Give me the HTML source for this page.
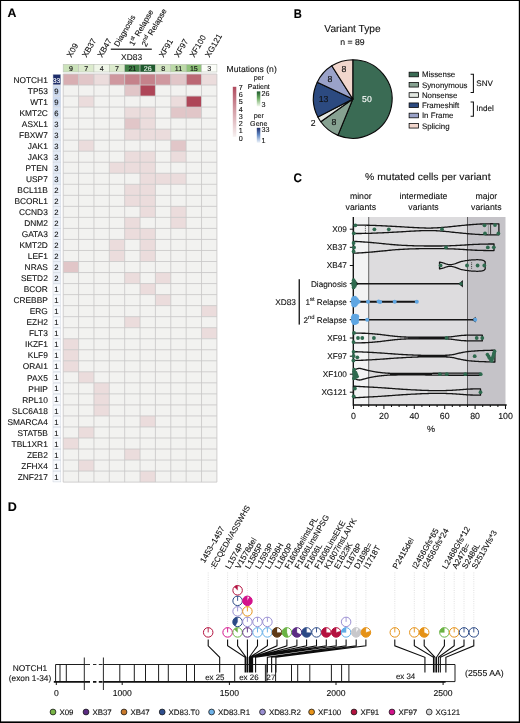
<!DOCTYPE html>
<html lang="en">
<head>
<meta charset="utf-8">
<title>Figure: mutational landscape</title>
<style>
html,body{margin:0;padding:0;background:#fff;}
body{width:520px;height:723px;overflow:hidden;}
svg{display:block;font-family:"Liberation Sans", sans-serif;text-rendering:geometricPrecision;will-change:transform;}
svg text{stroke-width:.11px;}
</style>
</head>
<body>
<svg width="520" height="723" viewBox="0 0 520 723">
<rect x="0" y="0" width="520" height="723" fill="#fff"/>
<text x="7.50" y="16.80" font-size="12.3" font-weight="bold" fill="#000" stroke="#000">A</text>
<text transform="translate(71.19,58.00) rotate(-60)" font-size="8.2" fill="#111" stroke="#111">X09</text>
<text transform="translate(86.55,58.00) rotate(-60)" font-size="8.2" fill="#111" stroke="#111">XB37</text>
<text transform="translate(101.92,58.00) rotate(-60)" font-size="8.2" fill="#111" stroke="#111">XB47</text>
<text transform="translate(118.30,47.20) rotate(-60)" font-size="7.9" fill="#111" stroke="#111">Diagnosis</text>
<text transform="translate(133.60,46.60) rotate(-60)" font-size="8.0" fill="#111" stroke="#111">1<tspan font-size="5.6" dy="-3.4">st</tspan><tspan dy="3.4"> Relapse</tspan></text>
<text transform="translate(145.90,47.20) rotate(-60)" font-size="8.0" fill="#111" stroke="#111">2<tspan font-size="5.6" dy="-3.4">nd</tspan><tspan dy="3.4"> Relapse</tspan></text>
<text transform="translate(163.41,58.00) rotate(-60)" font-size="8.2" fill="#111" stroke="#111">XF91</text>
<text transform="translate(178.78,58.00) rotate(-60)" font-size="8.2" fill="#111" stroke="#111">XF97</text>
<text transform="translate(194.14,58.00) rotate(-60)" font-size="8.2" fill="#111" stroke="#111">XF100</text>
<text transform="translate(209.51,58.00) rotate(-60)" font-size="8.2" fill="#111" stroke="#111">XG121</text>
<rect x="110.8" y="48.6" width="41" height="1.2" fill="#111"/>
<text x="131.60" y="60.00" font-size="8.4" text-anchor="middle" fill="#111" stroke="#111">XD83</text>
<rect x="63.20" y="64.3" width="15.37" height="7.7" fill="#cce3bb" stroke="#bcc2b7" stroke-width="0.6"/>
<text x="70.89" y="70.70" font-size="7.1" text-anchor="middle" fill="#111" stroke="#111">9</text>
<rect x="78.57" y="64.3" width="15.37" height="7.7" fill="#dcebcd" stroke="#bcc2b7" stroke-width="0.6"/>
<text x="86.26" y="70.70" font-size="7.1" text-anchor="middle" fill="#111" stroke="#111">7</text>
<rect x="93.94" y="64.3" width="15.37" height="7.7" fill="#eff6e8" stroke="#bcc2b7" stroke-width="0.6"/>
<text x="101.62" y="70.70" font-size="7.1" text-anchor="middle" fill="#111" stroke="#111">4</text>
<rect x="109.31" y="64.3" width="15.37" height="7.7" fill="#dcebcd" stroke="#bcc2b7" stroke-width="0.6"/>
<text x="117.00" y="70.70" font-size="7.1" text-anchor="middle" fill="#111" stroke="#111">7</text>
<rect x="124.68" y="64.3" width="15.37" height="7.7" fill="#3f7f45" stroke="#bcc2b7" stroke-width="0.6"/>
<text x="132.37" y="70.70" font-size="7.1" text-anchor="middle" fill="#111" stroke="#111">21</text>
<rect x="140.05" y="64.3" width="15.37" height="7.7" fill="#1f5a2e" stroke="#bcc2b7" stroke-width="0.6"/>
<text x="147.74" y="70.70" font-size="7.1" text-anchor="middle" fill="#e8f0e6" stroke="#e8f0e6">26</text>
<rect x="155.42" y="64.3" width="15.37" height="7.7" fill="#d4e7c4" stroke="#bcc2b7" stroke-width="0.6"/>
<text x="163.11" y="70.70" font-size="7.1" text-anchor="middle" fill="#111" stroke="#111">8</text>
<rect x="170.79" y="64.3" width="15.37" height="7.7" fill="#bcdaa7" stroke="#bcc2b7" stroke-width="0.6"/>
<text x="178.47" y="70.70" font-size="7.1" text-anchor="middle" fill="#111" stroke="#111">11</text>
<rect x="186.16" y="64.3" width="15.37" height="7.7" fill="#8fc27a" stroke="#bcc2b7" stroke-width="0.6"/>
<text x="193.84" y="70.70" font-size="7.1" text-anchor="middle" fill="#111" stroke="#111">15</text>
<rect x="201.53" y="64.3" width="15.37" height="7.7" fill="#fbfdf8" stroke="#bcc2b7" stroke-width="0.6"/>
<text x="209.21" y="70.70" font-size="7.1" text-anchor="middle" fill="#111" stroke="#111">3</text>
<text x="47.80" y="82.70" font-size="8.35" text-anchor="end" fill="#111" stroke="#111">NOTCH1</text>
<rect x="53" y="74.30" width="7.8" height="10.53" fill="#1e2d6a" stroke="#cdd3dd" stroke-width="0.5"/>
<text x="56.50" y="82.60" font-size="6.9" text-anchor="middle" fill="#fff" stroke="#fff">33</text>
<rect x="63.20" y="74.00" width="15.37" height="11.03" fill="#d8aeb2"/>
<rect x="78.57" y="74.00" width="15.37" height="11.03" fill="#e1c6c8"/>
<rect x="93.94" y="74.00" width="15.37" height="11.03" fill="#ebdcdc"/>
<rect x="109.31" y="74.00" width="15.37" height="11.03" fill="#cf989f"/>
<rect x="124.68" y="74.00" width="15.37" height="11.03" fill="#c5828b"/>
<rect x="140.05" y="74.00" width="15.37" height="11.03" fill="#c5828b"/>
<rect x="155.42" y="74.00" width="15.37" height="11.03" fill="#cf989f"/>
<rect x="170.79" y="74.00" width="15.37" height="11.03" fill="#e1c6c8"/>
<rect x="186.16" y="74.00" width="15.37" height="11.03" fill="#bb6874"/>
<rect x="201.53" y="74.00" width="15.37" height="11.03" fill="#ebdcdc"/>
<text x="47.80" y="93.73" font-size="8.35" text-anchor="end" fill="#111" stroke="#111">TP53</text>
<rect x="53" y="85.33" width="7.8" height="10.53" fill="#ccdaf0" stroke="#cdd3dd" stroke-width="0.5"/>
<text x="56.50" y="93.63" font-size="7.7" text-anchor="middle" fill="#111" stroke="#111">9</text>
<rect x="63.20" y="85.03" width="15.37" height="11.03" fill="#f2f2f0"/>
<rect x="78.57" y="85.03" width="15.37" height="11.03" fill="#f2f2f0"/>
<rect x="93.94" y="85.03" width="15.37" height="11.03" fill="#f2f2f0"/>
<rect x="109.31" y="85.03" width="15.37" height="11.03" fill="#f2f2f0"/>
<rect x="124.68" y="85.03" width="15.37" height="11.03" fill="#e1c6c8"/>
<rect x="140.05" y="85.03" width="15.37" height="11.03" fill="#ae4658"/>
<rect x="155.42" y="85.03" width="15.37" height="11.03" fill="#f2f2f0"/>
<rect x="170.79" y="85.03" width="15.37" height="11.03" fill="#f2f2f0"/>
<rect x="186.16" y="85.03" width="15.37" height="11.03" fill="#f2f2f0"/>
<rect x="201.53" y="85.03" width="15.37" height="11.03" fill="#f2f2f0"/>
<text x="47.80" y="104.76" font-size="8.35" text-anchor="end" fill="#111" stroke="#111">WT1</text>
<rect x="53" y="96.36" width="7.8" height="10.53" fill="#ccdaf0" stroke="#cdd3dd" stroke-width="0.5"/>
<text x="56.50" y="104.66" font-size="7.7" text-anchor="middle" fill="#111" stroke="#111">9</text>
<rect x="63.20" y="96.06" width="15.37" height="11.03" fill="#f2f2f0"/>
<rect x="78.57" y="96.06" width="15.37" height="11.03" fill="#ebdcdc"/>
<rect x="93.94" y="96.06" width="15.37" height="11.03" fill="#f2f2f0"/>
<rect x="109.31" y="96.06" width="15.37" height="11.03" fill="#f2f2f0"/>
<rect x="124.68" y="96.06" width="15.37" height="11.03" fill="#f2f2f0"/>
<rect x="140.05" y="96.06" width="15.37" height="11.03" fill="#f2f2f0"/>
<rect x="155.42" y="96.06" width="15.37" height="11.03" fill="#f2f2f0"/>
<rect x="170.79" y="96.06" width="15.37" height="11.03" fill="#ebdcdc"/>
<rect x="186.16" y="96.06" width="15.37" height="11.03" fill="#ae4658"/>
<rect x="201.53" y="96.06" width="15.37" height="11.03" fill="#f2f2f0"/>
<text x="47.80" y="115.79" font-size="8.35" text-anchor="end" fill="#111" stroke="#111">KMT2C</text>
<rect x="53" y="107.39" width="7.8" height="10.53" fill="#d6e2f3" stroke="#cdd3dd" stroke-width="0.5"/>
<text x="56.50" y="115.69" font-size="7.7" text-anchor="middle" fill="#111" stroke="#111">6</text>
<rect x="63.20" y="107.09" width="15.37" height="11.03" fill="#f2f2f0"/>
<rect x="78.57" y="107.09" width="15.37" height="11.03" fill="#f2f2f0"/>
<rect x="93.94" y="107.09" width="15.37" height="11.03" fill="#f2f2f0"/>
<rect x="109.31" y="107.09" width="15.37" height="11.03" fill="#f2f2f0"/>
<rect x="124.68" y="107.09" width="15.37" height="11.03" fill="#ebdcdc"/>
<rect x="140.05" y="107.09" width="15.37" height="11.03" fill="#ebdcdc"/>
<rect x="155.42" y="107.09" width="15.37" height="11.03" fill="#f2f2f0"/>
<rect x="170.79" y="107.09" width="15.37" height="11.03" fill="#e1c6c8"/>
<rect x="186.16" y="107.09" width="15.37" height="11.03" fill="#e1c6c8"/>
<rect x="201.53" y="107.09" width="15.37" height="11.03" fill="#f2f2f0"/>
<text x="47.80" y="126.82" font-size="8.35" text-anchor="end" fill="#111" stroke="#111">ASXL1</text>
<rect x="53" y="118.42" width="7.8" height="10.53" fill="#e3ebf6" stroke="#cdd3dd" stroke-width="0.5"/>
<text x="56.50" y="126.72" font-size="7.7" text-anchor="middle" fill="#111" stroke="#111">3</text>
<rect x="63.20" y="118.12" width="15.37" height="11.03" fill="#f2f2f0"/>
<rect x="78.57" y="118.12" width="15.37" height="11.03" fill="#f2f2f0"/>
<rect x="93.94" y="118.12" width="15.37" height="11.03" fill="#f2f2f0"/>
<rect x="109.31" y="118.12" width="15.37" height="11.03" fill="#f2f2f0"/>
<rect x="124.68" y="118.12" width="15.37" height="11.03" fill="#e1c6c8"/>
<rect x="140.05" y="118.12" width="15.37" height="11.03" fill="#ebdcdc"/>
<rect x="155.42" y="118.12" width="15.37" height="11.03" fill="#f2f2f0"/>
<rect x="170.79" y="118.12" width="15.37" height="11.03" fill="#f2f2f0"/>
<rect x="186.16" y="118.12" width="15.37" height="11.03" fill="#f2f2f0"/>
<rect x="201.53" y="118.12" width="15.37" height="11.03" fill="#f2f2f0"/>
<text x="47.80" y="137.85" font-size="8.35" text-anchor="end" fill="#111" stroke="#111">FBXW7</text>
<rect x="53" y="129.45" width="7.8" height="10.53" fill="#e3ebf6" stroke="#cdd3dd" stroke-width="0.5"/>
<text x="56.50" y="137.75" font-size="7.7" text-anchor="middle" fill="#111" stroke="#111">3</text>
<rect x="63.20" y="129.15" width="15.37" height="11.03" fill="#f2f2f0"/>
<rect x="78.57" y="129.15" width="15.37" height="11.03" fill="#f2f2f0"/>
<rect x="93.94" y="129.15" width="15.37" height="11.03" fill="#f2f2f0"/>
<rect x="109.31" y="129.15" width="15.37" height="11.03" fill="#f2f2f0"/>
<rect x="124.68" y="129.15" width="15.37" height="11.03" fill="#ebdcdc"/>
<rect x="140.05" y="129.15" width="15.37" height="11.03" fill="#ebdcdc"/>
<rect x="155.42" y="129.15" width="15.37" height="11.03" fill="#ebdcdc"/>
<rect x="170.79" y="129.15" width="15.37" height="11.03" fill="#f2f2f0"/>
<rect x="186.16" y="129.15" width="15.37" height="11.03" fill="#f2f2f0"/>
<rect x="201.53" y="129.15" width="15.37" height="11.03" fill="#f2f2f0"/>
<text x="47.80" y="148.88" font-size="8.35" text-anchor="end" fill="#111" stroke="#111">JAK1</text>
<rect x="53" y="140.48" width="7.8" height="10.53" fill="#e3ebf6" stroke="#cdd3dd" stroke-width="0.5"/>
<text x="56.50" y="148.78" font-size="7.7" text-anchor="middle" fill="#111" stroke="#111">3</text>
<rect x="63.20" y="140.18" width="15.37" height="11.03" fill="#f2f2f0"/>
<rect x="78.57" y="140.18" width="15.37" height="11.03" fill="#ebdcdc"/>
<rect x="93.94" y="140.18" width="15.37" height="11.03" fill="#f2f2f0"/>
<rect x="109.31" y="140.18" width="15.37" height="11.03" fill="#f2f2f0"/>
<rect x="124.68" y="140.18" width="15.37" height="11.03" fill="#f2f2f0"/>
<rect x="140.05" y="140.18" width="15.37" height="11.03" fill="#f2f2f0"/>
<rect x="155.42" y="140.18" width="15.37" height="11.03" fill="#f2f2f0"/>
<rect x="170.79" y="140.18" width="15.37" height="11.03" fill="#e1c6c8"/>
<rect x="186.16" y="140.18" width="15.37" height="11.03" fill="#f2f2f0"/>
<rect x="201.53" y="140.18" width="15.37" height="11.03" fill="#f2f2f0"/>
<text x="47.80" y="159.91" font-size="8.35" text-anchor="end" fill="#111" stroke="#111">JAK3</text>
<rect x="53" y="151.51" width="7.8" height="10.53" fill="#e3ebf6" stroke="#cdd3dd" stroke-width="0.5"/>
<text x="56.50" y="159.81" font-size="7.7" text-anchor="middle" fill="#111" stroke="#111">3</text>
<rect x="63.20" y="151.21" width="15.37" height="11.03" fill="#f2f2f0"/>
<rect x="78.57" y="151.21" width="15.37" height="11.03" fill="#f2f2f0"/>
<rect x="93.94" y="151.21" width="15.37" height="11.03" fill="#f2f2f0"/>
<rect x="109.31" y="151.21" width="15.37" height="11.03" fill="#f2f2f0"/>
<rect x="124.68" y="151.21" width="15.37" height="11.03" fill="#ebdcdc"/>
<rect x="140.05" y="151.21" width="15.37" height="11.03" fill="#ebdcdc"/>
<rect x="155.42" y="151.21" width="15.37" height="11.03" fill="#f2f2f0"/>
<rect x="170.79" y="151.21" width="15.37" height="11.03" fill="#ebdcdc"/>
<rect x="186.16" y="151.21" width="15.37" height="11.03" fill="#f2f2f0"/>
<rect x="201.53" y="151.21" width="15.37" height="11.03" fill="#f2f2f0"/>
<text x="47.80" y="170.94" font-size="8.35" text-anchor="end" fill="#111" stroke="#111">PTEN</text>
<rect x="53" y="162.54" width="7.8" height="10.53" fill="#e3ebf6" stroke="#cdd3dd" stroke-width="0.5"/>
<text x="56.50" y="170.84" font-size="7.7" text-anchor="middle" fill="#111" stroke="#111">3</text>
<rect x="63.20" y="162.24" width="15.37" height="11.03" fill="#f2f2f0"/>
<rect x="78.57" y="162.24" width="15.37" height="11.03" fill="#f2f2f0"/>
<rect x="93.94" y="162.24" width="15.37" height="11.03" fill="#f2f2f0"/>
<rect x="109.31" y="162.24" width="15.37" height="11.03" fill="#ebdcdc"/>
<rect x="124.68" y="162.24" width="15.37" height="11.03" fill="#ebdcdc"/>
<rect x="140.05" y="162.24" width="15.37" height="11.03" fill="#ebdcdc"/>
<rect x="155.42" y="162.24" width="15.37" height="11.03" fill="#f2f2f0"/>
<rect x="170.79" y="162.24" width="15.37" height="11.03" fill="#f2f2f0"/>
<rect x="186.16" y="162.24" width="15.37" height="11.03" fill="#f2f2f0"/>
<rect x="201.53" y="162.24" width="15.37" height="11.03" fill="#f2f2f0"/>
<text x="47.80" y="181.97" font-size="8.35" text-anchor="end" fill="#111" stroke="#111">USP7</text>
<rect x="53" y="173.57" width="7.8" height="10.53" fill="#e3ebf6" stroke="#cdd3dd" stroke-width="0.5"/>
<text x="56.50" y="181.87" font-size="7.7" text-anchor="middle" fill="#111" stroke="#111">3</text>
<rect x="63.20" y="173.27" width="15.37" height="11.03" fill="#f2f2f0"/>
<rect x="78.57" y="173.27" width="15.37" height="11.03" fill="#f2f2f0"/>
<rect x="93.94" y="173.27" width="15.37" height="11.03" fill="#f2f2f0"/>
<rect x="109.31" y="173.27" width="15.37" height="11.03" fill="#f2f2f0"/>
<rect x="124.68" y="173.27" width="15.37" height="11.03" fill="#f2f2f0"/>
<rect x="140.05" y="173.27" width="15.37" height="11.03" fill="#ebdcdc"/>
<rect x="155.42" y="173.27" width="15.37" height="11.03" fill="#ebdcdc"/>
<rect x="170.79" y="173.27" width="15.37" height="11.03" fill="#ebdcdc"/>
<rect x="186.16" y="173.27" width="15.37" height="11.03" fill="#f2f2f0"/>
<rect x="201.53" y="173.27" width="15.37" height="11.03" fill="#f2f2f0"/>
<text x="47.80" y="193.00" font-size="8.35" text-anchor="end" fill="#111" stroke="#111">BCL11B</text>
<rect x="53" y="184.60" width="7.8" height="10.53" fill="#ecf1f9" stroke="#cdd3dd" stroke-width="0.5"/>
<text x="56.50" y="192.90" font-size="7.7" text-anchor="middle" fill="#111" stroke="#111">2</text>
<rect x="63.20" y="184.30" width="15.37" height="11.03" fill="#f2f2f0"/>
<rect x="78.57" y="184.30" width="15.37" height="11.03" fill="#f2f2f0"/>
<rect x="93.94" y="184.30" width="15.37" height="11.03" fill="#f2f2f0"/>
<rect x="109.31" y="184.30" width="15.37" height="11.03" fill="#f2f2f0"/>
<rect x="124.68" y="184.30" width="15.37" height="11.03" fill="#ebdcdc"/>
<rect x="140.05" y="184.30" width="15.37" height="11.03" fill="#ebdcdc"/>
<rect x="155.42" y="184.30" width="15.37" height="11.03" fill="#f2f2f0"/>
<rect x="170.79" y="184.30" width="15.37" height="11.03" fill="#f2f2f0"/>
<rect x="186.16" y="184.30" width="15.37" height="11.03" fill="#f2f2f0"/>
<rect x="201.53" y="184.30" width="15.37" height="11.03" fill="#f2f2f0"/>
<text x="47.80" y="204.03" font-size="8.35" text-anchor="end" fill="#111" stroke="#111">BCORL1</text>
<rect x="53" y="195.63" width="7.8" height="10.53" fill="#ecf1f9" stroke="#cdd3dd" stroke-width="0.5"/>
<text x="56.50" y="203.93" font-size="7.7" text-anchor="middle" fill="#111" stroke="#111">2</text>
<rect x="63.20" y="195.33" width="15.37" height="11.03" fill="#f2f2f0"/>
<rect x="78.57" y="195.33" width="15.37" height="11.03" fill="#f2f2f0"/>
<rect x="93.94" y="195.33" width="15.37" height="11.03" fill="#f2f2f0"/>
<rect x="109.31" y="195.33" width="15.37" height="11.03" fill="#f2f2f0"/>
<rect x="124.68" y="195.33" width="15.37" height="11.03" fill="#ebdcdc"/>
<rect x="140.05" y="195.33" width="15.37" height="11.03" fill="#ebdcdc"/>
<rect x="155.42" y="195.33" width="15.37" height="11.03" fill="#f2f2f0"/>
<rect x="170.79" y="195.33" width="15.37" height="11.03" fill="#f2f2f0"/>
<rect x="186.16" y="195.33" width="15.37" height="11.03" fill="#f2f2f0"/>
<rect x="201.53" y="195.33" width="15.37" height="11.03" fill="#f2f2f0"/>
<text x="47.80" y="215.06" font-size="8.35" text-anchor="end" fill="#111" stroke="#111">CCND3</text>
<rect x="53" y="206.66" width="7.8" height="10.53" fill="#ecf1f9" stroke="#cdd3dd" stroke-width="0.5"/>
<text x="56.50" y="214.96" font-size="7.7" text-anchor="middle" fill="#111" stroke="#111">2</text>
<rect x="63.20" y="206.36" width="15.37" height="11.03" fill="#f2f2f0"/>
<rect x="78.57" y="206.36" width="15.37" height="11.03" fill="#f2f2f0"/>
<rect x="93.94" y="206.36" width="15.37" height="11.03" fill="#f2f2f0"/>
<rect x="109.31" y="206.36" width="15.37" height="11.03" fill="#f2f2f0"/>
<rect x="124.68" y="206.36" width="15.37" height="11.03" fill="#f2f2f0"/>
<rect x="140.05" y="206.36" width="15.37" height="11.03" fill="#ebdcdc"/>
<rect x="155.42" y="206.36" width="15.37" height="11.03" fill="#f2f2f0"/>
<rect x="170.79" y="206.36" width="15.37" height="11.03" fill="#ebdcdc"/>
<rect x="186.16" y="206.36" width="15.37" height="11.03" fill="#f2f2f0"/>
<rect x="201.53" y="206.36" width="15.37" height="11.03" fill="#f2f2f0"/>
<text x="47.80" y="226.09" font-size="8.35" text-anchor="end" fill="#111" stroke="#111">DNM2</text>
<rect x="53" y="217.69" width="7.8" height="10.53" fill="#ecf1f9" stroke="#cdd3dd" stroke-width="0.5"/>
<text x="56.50" y="225.99" font-size="7.7" text-anchor="middle" fill="#111" stroke="#111">2</text>
<rect x="63.20" y="217.39" width="15.37" height="11.03" fill="#f2f2f0"/>
<rect x="78.57" y="217.39" width="15.37" height="11.03" fill="#f2f2f0"/>
<rect x="93.94" y="217.39" width="15.37" height="11.03" fill="#f2f2f0"/>
<rect x="109.31" y="217.39" width="15.37" height="11.03" fill="#f2f2f0"/>
<rect x="124.68" y="217.39" width="15.37" height="11.03" fill="#ebdcdc"/>
<rect x="140.05" y="217.39" width="15.37" height="11.03" fill="#f2f2f0"/>
<rect x="155.42" y="217.39" width="15.37" height="11.03" fill="#f2f2f0"/>
<rect x="170.79" y="217.39" width="15.37" height="11.03" fill="#ebdcdc"/>
<rect x="186.16" y="217.39" width="15.37" height="11.03" fill="#f2f2f0"/>
<rect x="201.53" y="217.39" width="15.37" height="11.03" fill="#f2f2f0"/>
<text x="47.80" y="237.12" font-size="8.35" text-anchor="end" fill="#111" stroke="#111">GATA3</text>
<rect x="53" y="228.72" width="7.8" height="10.53" fill="#ecf1f9" stroke="#cdd3dd" stroke-width="0.5"/>
<text x="56.50" y="237.02" font-size="7.7" text-anchor="middle" fill="#111" stroke="#111">2</text>
<rect x="63.20" y="228.42" width="15.37" height="11.03" fill="#f2f2f0"/>
<rect x="78.57" y="228.42" width="15.37" height="11.03" fill="#f2f2f0"/>
<rect x="93.94" y="228.42" width="15.37" height="11.03" fill="#f2f2f0"/>
<rect x="109.31" y="228.42" width="15.37" height="11.03" fill="#f2f2f0"/>
<rect x="124.68" y="228.42" width="15.37" height="11.03" fill="#ebdcdc"/>
<rect x="140.05" y="228.42" width="15.37" height="11.03" fill="#ebdcdc"/>
<rect x="155.42" y="228.42" width="15.37" height="11.03" fill="#f2f2f0"/>
<rect x="170.79" y="228.42" width="15.37" height="11.03" fill="#f2f2f0"/>
<rect x="186.16" y="228.42" width="15.37" height="11.03" fill="#f2f2f0"/>
<rect x="201.53" y="228.42" width="15.37" height="11.03" fill="#f2f2f0"/>
<text x="47.80" y="248.15" font-size="8.35" text-anchor="end" fill="#111" stroke="#111">KMT2D</text>
<rect x="53" y="239.75" width="7.8" height="10.53" fill="#ecf1f9" stroke="#cdd3dd" stroke-width="0.5"/>
<text x="56.50" y="248.05" font-size="7.7" text-anchor="middle" fill="#111" stroke="#111">2</text>
<rect x="63.20" y="239.45" width="15.37" height="11.03" fill="#f2f2f0"/>
<rect x="78.57" y="239.45" width="15.37" height="11.03" fill="#f2f2f0"/>
<rect x="93.94" y="239.45" width="15.37" height="11.03" fill="#f2f2f0"/>
<rect x="109.31" y="239.45" width="15.37" height="11.03" fill="#ebdcdc"/>
<rect x="124.68" y="239.45" width="15.37" height="11.03" fill="#f2f2f0"/>
<rect x="140.05" y="239.45" width="15.37" height="11.03" fill="#ebdcdc"/>
<rect x="155.42" y="239.45" width="15.37" height="11.03" fill="#f2f2f0"/>
<rect x="170.79" y="239.45" width="15.37" height="11.03" fill="#f2f2f0"/>
<rect x="186.16" y="239.45" width="15.37" height="11.03" fill="#f2f2f0"/>
<rect x="201.53" y="239.45" width="15.37" height="11.03" fill="#f2f2f0"/>
<text x="47.80" y="259.18" font-size="8.35" text-anchor="end" fill="#111" stroke="#111">LEF1</text>
<rect x="53" y="250.78" width="7.8" height="10.53" fill="#ecf1f9" stroke="#cdd3dd" stroke-width="0.5"/>
<text x="56.50" y="259.08" font-size="7.7" text-anchor="middle" fill="#111" stroke="#111">2</text>
<rect x="63.20" y="250.48" width="15.37" height="11.03" fill="#f2f2f0"/>
<rect x="78.57" y="250.48" width="15.37" height="11.03" fill="#f2f2f0"/>
<rect x="93.94" y="250.48" width="15.37" height="11.03" fill="#f2f2f0"/>
<rect x="109.31" y="250.48" width="15.37" height="11.03" fill="#ebdcdc"/>
<rect x="124.68" y="250.48" width="15.37" height="11.03" fill="#f2f2f0"/>
<rect x="140.05" y="250.48" width="15.37" height="11.03" fill="#ebdcdc"/>
<rect x="155.42" y="250.48" width="15.37" height="11.03" fill="#f2f2f0"/>
<rect x="170.79" y="250.48" width="15.37" height="11.03" fill="#f2f2f0"/>
<rect x="186.16" y="250.48" width="15.37" height="11.03" fill="#f2f2f0"/>
<rect x="201.53" y="250.48" width="15.37" height="11.03" fill="#f2f2f0"/>
<text x="47.80" y="270.21" font-size="8.35" text-anchor="end" fill="#111" stroke="#111">NRAS</text>
<rect x="53" y="261.81" width="7.8" height="10.53" fill="#ecf1f9" stroke="#cdd3dd" stroke-width="0.5"/>
<text x="56.50" y="270.11" font-size="7.7" text-anchor="middle" fill="#111" stroke="#111">2</text>
<rect x="63.20" y="261.51" width="15.37" height="11.03" fill="#e1c6c8"/>
<rect x="78.57" y="261.51" width="15.37" height="11.03" fill="#f2f2f0"/>
<rect x="93.94" y="261.51" width="15.37" height="11.03" fill="#f2f2f0"/>
<rect x="109.31" y="261.51" width="15.37" height="11.03" fill="#f2f2f0"/>
<rect x="124.68" y="261.51" width="15.37" height="11.03" fill="#f2f2f0"/>
<rect x="140.05" y="261.51" width="15.37" height="11.03" fill="#f2f2f0"/>
<rect x="155.42" y="261.51" width="15.37" height="11.03" fill="#f2f2f0"/>
<rect x="170.79" y="261.51" width="15.37" height="11.03" fill="#f2f2f0"/>
<rect x="186.16" y="261.51" width="15.37" height="11.03" fill="#f2f2f0"/>
<rect x="201.53" y="261.51" width="15.37" height="11.03" fill="#f2f2f0"/>
<text x="47.80" y="281.24" font-size="8.35" text-anchor="end" fill="#111" stroke="#111">SETD2</text>
<rect x="53" y="272.84" width="7.8" height="10.53" fill="#ecf1f9" stroke="#cdd3dd" stroke-width="0.5"/>
<text x="56.50" y="281.14" font-size="7.7" text-anchor="middle" fill="#111" stroke="#111">2</text>
<rect x="63.20" y="272.54" width="15.37" height="11.03" fill="#f2f2f0"/>
<rect x="78.57" y="272.54" width="15.37" height="11.03" fill="#f2f2f0"/>
<rect x="93.94" y="272.54" width="15.37" height="11.03" fill="#f2f2f0"/>
<rect x="109.31" y="272.54" width="15.37" height="11.03" fill="#f2f2f0"/>
<rect x="124.68" y="272.54" width="15.37" height="11.03" fill="#ebdcdc"/>
<rect x="140.05" y="272.54" width="15.37" height="11.03" fill="#f2f2f0"/>
<rect x="155.42" y="272.54" width="15.37" height="11.03" fill="#ebdcdc"/>
<rect x="170.79" y="272.54" width="15.37" height="11.03" fill="#f2f2f0"/>
<rect x="186.16" y="272.54" width="15.37" height="11.03" fill="#f2f2f0"/>
<rect x="201.53" y="272.54" width="15.37" height="11.03" fill="#f2f2f0"/>
<text x="47.80" y="292.27" font-size="8.35" text-anchor="end" fill="#111" stroke="#111">BCOR</text>
<rect x="53" y="283.87" width="7.8" height="10.53" fill="#f8fafd" stroke="#cdd3dd" stroke-width="0.5"/>
<text x="56.50" y="292.17" font-size="7.7" text-anchor="middle" fill="#111" stroke="#111">1</text>
<rect x="63.20" y="283.57" width="15.37" height="11.03" fill="#f2f2f0"/>
<rect x="78.57" y="283.57" width="15.37" height="11.03" fill="#f2f2f0"/>
<rect x="93.94" y="283.57" width="15.37" height="11.03" fill="#f2f2f0"/>
<rect x="109.31" y="283.57" width="15.37" height="11.03" fill="#f2f2f0"/>
<rect x="124.68" y="283.57" width="15.37" height="11.03" fill="#f2f2f0"/>
<rect x="140.05" y="283.57" width="15.37" height="11.03" fill="#ebdcdc"/>
<rect x="155.42" y="283.57" width="15.37" height="11.03" fill="#f2f2f0"/>
<rect x="170.79" y="283.57" width="15.37" height="11.03" fill="#f2f2f0"/>
<rect x="186.16" y="283.57" width="15.37" height="11.03" fill="#f2f2f0"/>
<rect x="201.53" y="283.57" width="15.37" height="11.03" fill="#f2f2f0"/>
<text x="47.80" y="303.30" font-size="8.35" text-anchor="end" fill="#111" stroke="#111">CREBBP</text>
<rect x="53" y="294.90" width="7.8" height="10.53" fill="#f8fafd" stroke="#cdd3dd" stroke-width="0.5"/>
<text x="56.50" y="303.20" font-size="7.7" text-anchor="middle" fill="#111" stroke="#111">1</text>
<rect x="63.20" y="294.60" width="15.37" height="11.03" fill="#f2f2f0"/>
<rect x="78.57" y="294.60" width="15.37" height="11.03" fill="#f2f2f0"/>
<rect x="93.94" y="294.60" width="15.37" height="11.03" fill="#f2f2f0"/>
<rect x="109.31" y="294.60" width="15.37" height="11.03" fill="#f2f2f0"/>
<rect x="124.68" y="294.60" width="15.37" height="11.03" fill="#f2f2f0"/>
<rect x="140.05" y="294.60" width="15.37" height="11.03" fill="#f2f2f0"/>
<rect x="155.42" y="294.60" width="15.37" height="11.03" fill="#ebdcdc"/>
<rect x="170.79" y="294.60" width="15.37" height="11.03" fill="#f2f2f0"/>
<rect x="186.16" y="294.60" width="15.37" height="11.03" fill="#f2f2f0"/>
<rect x="201.53" y="294.60" width="15.37" height="11.03" fill="#f2f2f0"/>
<text x="47.80" y="314.33" font-size="8.35" text-anchor="end" fill="#111" stroke="#111">ERG</text>
<rect x="53" y="305.93" width="7.8" height="10.53" fill="#f8fafd" stroke="#cdd3dd" stroke-width="0.5"/>
<text x="56.50" y="314.23" font-size="7.7" text-anchor="middle" fill="#111" stroke="#111">1</text>
<rect x="63.20" y="305.63" width="15.37" height="11.03" fill="#f2f2f0"/>
<rect x="78.57" y="305.63" width="15.37" height="11.03" fill="#f2f2f0"/>
<rect x="93.94" y="305.63" width="15.37" height="11.03" fill="#f2f2f0"/>
<rect x="109.31" y="305.63" width="15.37" height="11.03" fill="#f2f2f0"/>
<rect x="124.68" y="305.63" width="15.37" height="11.03" fill="#f2f2f0"/>
<rect x="140.05" y="305.63" width="15.37" height="11.03" fill="#f2f2f0"/>
<rect x="155.42" y="305.63" width="15.37" height="11.03" fill="#f2f2f0"/>
<rect x="170.79" y="305.63" width="15.37" height="11.03" fill="#f2f2f0"/>
<rect x="186.16" y="305.63" width="15.37" height="11.03" fill="#f2f2f0"/>
<rect x="201.53" y="305.63" width="15.37" height="11.03" fill="#ebdcdc"/>
<text x="47.80" y="325.36" font-size="8.35" text-anchor="end" fill="#111" stroke="#111">EZH2</text>
<rect x="53" y="316.96" width="7.8" height="10.53" fill="#f8fafd" stroke="#cdd3dd" stroke-width="0.5"/>
<text x="56.50" y="325.26" font-size="7.7" text-anchor="middle" fill="#111" stroke="#111">1</text>
<rect x="63.20" y="316.66" width="15.37" height="11.03" fill="#f2f2f0"/>
<rect x="78.57" y="316.66" width="15.37" height="11.03" fill="#f2f2f0"/>
<rect x="93.94" y="316.66" width="15.37" height="11.03" fill="#f2f2f0"/>
<rect x="109.31" y="316.66" width="15.37" height="11.03" fill="#f2f2f0"/>
<rect x="124.68" y="316.66" width="15.37" height="11.03" fill="#ebdcdc"/>
<rect x="140.05" y="316.66" width="15.37" height="11.03" fill="#f2f2f0"/>
<rect x="155.42" y="316.66" width="15.37" height="11.03" fill="#f2f2f0"/>
<rect x="170.79" y="316.66" width="15.37" height="11.03" fill="#f2f2f0"/>
<rect x="186.16" y="316.66" width="15.37" height="11.03" fill="#f2f2f0"/>
<rect x="201.53" y="316.66" width="15.37" height="11.03" fill="#f2f2f0"/>
<text x="47.80" y="336.39" font-size="8.35" text-anchor="end" fill="#111" stroke="#111">FLT3</text>
<rect x="53" y="327.99" width="7.8" height="10.53" fill="#f8fafd" stroke="#cdd3dd" stroke-width="0.5"/>
<text x="56.50" y="336.29" font-size="7.7" text-anchor="middle" fill="#111" stroke="#111">1</text>
<rect x="63.20" y="327.69" width="15.37" height="11.03" fill="#f2f2f0"/>
<rect x="78.57" y="327.69" width="15.37" height="11.03" fill="#f2f2f0"/>
<rect x="93.94" y="327.69" width="15.37" height="11.03" fill="#f2f2f0"/>
<rect x="109.31" y="327.69" width="15.37" height="11.03" fill="#f2f2f0"/>
<rect x="124.68" y="327.69" width="15.37" height="11.03" fill="#f2f2f0"/>
<rect x="140.05" y="327.69" width="15.37" height="11.03" fill="#f2f2f0"/>
<rect x="155.42" y="327.69" width="15.37" height="11.03" fill="#f2f2f0"/>
<rect x="170.79" y="327.69" width="15.37" height="11.03" fill="#f2f2f0"/>
<rect x="186.16" y="327.69" width="15.37" height="11.03" fill="#f2f2f0"/>
<rect x="201.53" y="327.69" width="15.37" height="11.03" fill="#ebdcdc"/>
<text x="47.80" y="347.42" font-size="8.35" text-anchor="end" fill="#111" stroke="#111">IKZF1</text>
<rect x="53" y="339.02" width="7.8" height="10.53" fill="#f8fafd" stroke="#cdd3dd" stroke-width="0.5"/>
<text x="56.50" y="347.32" font-size="7.7" text-anchor="middle" fill="#111" stroke="#111">1</text>
<rect x="63.20" y="338.72" width="15.37" height="11.03" fill="#ebdcdc"/>
<rect x="78.57" y="338.72" width="15.37" height="11.03" fill="#f2f2f0"/>
<rect x="93.94" y="338.72" width="15.37" height="11.03" fill="#f2f2f0"/>
<rect x="109.31" y="338.72" width="15.37" height="11.03" fill="#f2f2f0"/>
<rect x="124.68" y="338.72" width="15.37" height="11.03" fill="#f2f2f0"/>
<rect x="140.05" y="338.72" width="15.37" height="11.03" fill="#f2f2f0"/>
<rect x="155.42" y="338.72" width="15.37" height="11.03" fill="#f2f2f0"/>
<rect x="170.79" y="338.72" width="15.37" height="11.03" fill="#f2f2f0"/>
<rect x="186.16" y="338.72" width="15.37" height="11.03" fill="#f2f2f0"/>
<rect x="201.53" y="338.72" width="15.37" height="11.03" fill="#f2f2f0"/>
<text x="47.80" y="358.45" font-size="8.35" text-anchor="end" fill="#111" stroke="#111">KLF9</text>
<rect x="53" y="350.05" width="7.8" height="10.53" fill="#f8fafd" stroke="#cdd3dd" stroke-width="0.5"/>
<text x="56.50" y="358.35" font-size="7.7" text-anchor="middle" fill="#111" stroke="#111">1</text>
<rect x="63.20" y="349.75" width="15.37" height="11.03" fill="#ebdcdc"/>
<rect x="78.57" y="349.75" width="15.37" height="11.03" fill="#f2f2f0"/>
<rect x="93.94" y="349.75" width="15.37" height="11.03" fill="#f2f2f0"/>
<rect x="109.31" y="349.75" width="15.37" height="11.03" fill="#f2f2f0"/>
<rect x="124.68" y="349.75" width="15.37" height="11.03" fill="#f2f2f0"/>
<rect x="140.05" y="349.75" width="15.37" height="11.03" fill="#f2f2f0"/>
<rect x="155.42" y="349.75" width="15.37" height="11.03" fill="#f2f2f0"/>
<rect x="170.79" y="349.75" width="15.37" height="11.03" fill="#f2f2f0"/>
<rect x="186.16" y="349.75" width="15.37" height="11.03" fill="#f2f2f0"/>
<rect x="201.53" y="349.75" width="15.37" height="11.03" fill="#f2f2f0"/>
<text x="47.80" y="369.48" font-size="8.35" text-anchor="end" fill="#111" stroke="#111">ORAI1</text>
<rect x="53" y="361.08" width="7.8" height="10.53" fill="#f8fafd" stroke="#cdd3dd" stroke-width="0.5"/>
<text x="56.50" y="369.38" font-size="7.7" text-anchor="middle" fill="#111" stroke="#111">1</text>
<rect x="63.20" y="360.78" width="15.37" height="11.03" fill="#ebdcdc"/>
<rect x="78.57" y="360.78" width="15.37" height="11.03" fill="#f2f2f0"/>
<rect x="93.94" y="360.78" width="15.37" height="11.03" fill="#f2f2f0"/>
<rect x="109.31" y="360.78" width="15.37" height="11.03" fill="#f2f2f0"/>
<rect x="124.68" y="360.78" width="15.37" height="11.03" fill="#f2f2f0"/>
<rect x="140.05" y="360.78" width="15.37" height="11.03" fill="#f2f2f0"/>
<rect x="155.42" y="360.78" width="15.37" height="11.03" fill="#f2f2f0"/>
<rect x="170.79" y="360.78" width="15.37" height="11.03" fill="#f2f2f0"/>
<rect x="186.16" y="360.78" width="15.37" height="11.03" fill="#f2f2f0"/>
<rect x="201.53" y="360.78" width="15.37" height="11.03" fill="#f2f2f0"/>
<text x="47.80" y="380.51" font-size="8.35" text-anchor="end" fill="#111" stroke="#111">PAX5</text>
<rect x="53" y="372.11" width="7.8" height="10.53" fill="#f8fafd" stroke="#cdd3dd" stroke-width="0.5"/>
<text x="56.50" y="380.41" font-size="7.7" text-anchor="middle" fill="#111" stroke="#111">1</text>
<rect x="63.20" y="371.81" width="15.37" height="11.03" fill="#f2f2f0"/>
<rect x="78.57" y="371.81" width="15.37" height="11.03" fill="#ebdcdc"/>
<rect x="93.94" y="371.81" width="15.37" height="11.03" fill="#f2f2f0"/>
<rect x="109.31" y="371.81" width="15.37" height="11.03" fill="#f2f2f0"/>
<rect x="124.68" y="371.81" width="15.37" height="11.03" fill="#f2f2f0"/>
<rect x="140.05" y="371.81" width="15.37" height="11.03" fill="#f2f2f0"/>
<rect x="155.42" y="371.81" width="15.37" height="11.03" fill="#f2f2f0"/>
<rect x="170.79" y="371.81" width="15.37" height="11.03" fill="#f2f2f0"/>
<rect x="186.16" y="371.81" width="15.37" height="11.03" fill="#f2f2f0"/>
<rect x="201.53" y="371.81" width="15.37" height="11.03" fill="#f2f2f0"/>
<text x="47.80" y="391.54" font-size="8.35" text-anchor="end" fill="#111" stroke="#111">PHIP</text>
<rect x="53" y="383.14" width="7.8" height="10.53" fill="#f8fafd" stroke="#cdd3dd" stroke-width="0.5"/>
<text x="56.50" y="391.44" font-size="7.7" text-anchor="middle" fill="#111" stroke="#111">1</text>
<rect x="63.20" y="382.84" width="15.37" height="11.03" fill="#f2f2f0"/>
<rect x="78.57" y="382.84" width="15.37" height="11.03" fill="#f2f2f0"/>
<rect x="93.94" y="382.84" width="15.37" height="11.03" fill="#ebdcdc"/>
<rect x="109.31" y="382.84" width="15.37" height="11.03" fill="#f2f2f0"/>
<rect x="124.68" y="382.84" width="15.37" height="11.03" fill="#f2f2f0"/>
<rect x="140.05" y="382.84" width="15.37" height="11.03" fill="#f2f2f0"/>
<rect x="155.42" y="382.84" width="15.37" height="11.03" fill="#f2f2f0"/>
<rect x="170.79" y="382.84" width="15.37" height="11.03" fill="#f2f2f0"/>
<rect x="186.16" y="382.84" width="15.37" height="11.03" fill="#f2f2f0"/>
<rect x="201.53" y="382.84" width="15.37" height="11.03" fill="#f2f2f0"/>
<text x="47.80" y="402.57" font-size="8.35" text-anchor="end" fill="#111" stroke="#111">RPL10</text>
<rect x="53" y="394.17" width="7.8" height="10.53" fill="#f8fafd" stroke="#cdd3dd" stroke-width="0.5"/>
<text x="56.50" y="402.47" font-size="7.7" text-anchor="middle" fill="#111" stroke="#111">1</text>
<rect x="63.20" y="393.87" width="15.37" height="11.03" fill="#f2f2f0"/>
<rect x="78.57" y="393.87" width="15.37" height="11.03" fill="#f2f2f0"/>
<rect x="93.94" y="393.87" width="15.37" height="11.03" fill="#ebdcdc"/>
<rect x="109.31" y="393.87" width="15.37" height="11.03" fill="#f2f2f0"/>
<rect x="124.68" y="393.87" width="15.37" height="11.03" fill="#f2f2f0"/>
<rect x="140.05" y="393.87" width="15.37" height="11.03" fill="#f2f2f0"/>
<rect x="155.42" y="393.87" width="15.37" height="11.03" fill="#f2f2f0"/>
<rect x="170.79" y="393.87" width="15.37" height="11.03" fill="#f2f2f0"/>
<rect x="186.16" y="393.87" width="15.37" height="11.03" fill="#f2f2f0"/>
<rect x="201.53" y="393.87" width="15.37" height="11.03" fill="#f2f2f0"/>
<text x="47.80" y="413.60" font-size="8.35" text-anchor="end" fill="#111" stroke="#111">SLC6A18</text>
<rect x="53" y="405.20" width="7.8" height="10.53" fill="#f8fafd" stroke="#cdd3dd" stroke-width="0.5"/>
<text x="56.50" y="413.50" font-size="7.7" text-anchor="middle" fill="#111" stroke="#111">1</text>
<rect x="63.20" y="404.90" width="15.37" height="11.03" fill="#f2f2f0"/>
<rect x="78.57" y="404.90" width="15.37" height="11.03" fill="#f2f2f0"/>
<rect x="93.94" y="404.90" width="15.37" height="11.03" fill="#ebdcdc"/>
<rect x="109.31" y="404.90" width="15.37" height="11.03" fill="#f2f2f0"/>
<rect x="124.68" y="404.90" width="15.37" height="11.03" fill="#f2f2f0"/>
<rect x="140.05" y="404.90" width="15.37" height="11.03" fill="#f2f2f0"/>
<rect x="155.42" y="404.90" width="15.37" height="11.03" fill="#f2f2f0"/>
<rect x="170.79" y="404.90" width="15.37" height="11.03" fill="#f2f2f0"/>
<rect x="186.16" y="404.90" width="15.37" height="11.03" fill="#f2f2f0"/>
<rect x="201.53" y="404.90" width="15.37" height="11.03" fill="#f2f2f0"/>
<text x="47.80" y="424.63" font-size="8.35" text-anchor="end" fill="#111" stroke="#111">SMARCA4</text>
<rect x="53" y="416.23" width="7.8" height="10.53" fill="#f8fafd" stroke="#cdd3dd" stroke-width="0.5"/>
<text x="56.50" y="424.53" font-size="7.7" text-anchor="middle" fill="#111" stroke="#111">1</text>
<rect x="63.20" y="415.93" width="15.37" height="11.03" fill="#f2f2f0"/>
<rect x="78.57" y="415.93" width="15.37" height="11.03" fill="#f2f2f0"/>
<rect x="93.94" y="415.93" width="15.37" height="11.03" fill="#f2f2f0"/>
<rect x="109.31" y="415.93" width="15.37" height="11.03" fill="#f2f2f0"/>
<rect x="124.68" y="415.93" width="15.37" height="11.03" fill="#f2f2f0"/>
<rect x="140.05" y="415.93" width="15.37" height="11.03" fill="#ebdcdc"/>
<rect x="155.42" y="415.93" width="15.37" height="11.03" fill="#f2f2f0"/>
<rect x="170.79" y="415.93" width="15.37" height="11.03" fill="#f2f2f0"/>
<rect x="186.16" y="415.93" width="15.37" height="11.03" fill="#f2f2f0"/>
<rect x="201.53" y="415.93" width="15.37" height="11.03" fill="#f2f2f0"/>
<text x="47.80" y="435.66" font-size="8.35" text-anchor="end" fill="#111" stroke="#111">STAT5B</text>
<rect x="53" y="427.26" width="7.8" height="10.53" fill="#f8fafd" stroke="#cdd3dd" stroke-width="0.5"/>
<text x="56.50" y="435.56" font-size="7.7" text-anchor="middle" fill="#111" stroke="#111">1</text>
<rect x="63.20" y="426.96" width="15.37" height="11.03" fill="#f2f2f0"/>
<rect x="78.57" y="426.96" width="15.37" height="11.03" fill="#ebdcdc"/>
<rect x="93.94" y="426.96" width="15.37" height="11.03" fill="#f2f2f0"/>
<rect x="109.31" y="426.96" width="15.37" height="11.03" fill="#f2f2f0"/>
<rect x="124.68" y="426.96" width="15.37" height="11.03" fill="#f2f2f0"/>
<rect x="140.05" y="426.96" width="15.37" height="11.03" fill="#f2f2f0"/>
<rect x="155.42" y="426.96" width="15.37" height="11.03" fill="#f2f2f0"/>
<rect x="170.79" y="426.96" width="15.37" height="11.03" fill="#f2f2f0"/>
<rect x="186.16" y="426.96" width="15.37" height="11.03" fill="#f2f2f0"/>
<rect x="201.53" y="426.96" width="15.37" height="11.03" fill="#f2f2f0"/>
<text x="47.80" y="446.69" font-size="8.35" text-anchor="end" fill="#111" stroke="#111">TBL1XR1</text>
<rect x="53" y="438.29" width="7.8" height="10.53" fill="#f8fafd" stroke="#cdd3dd" stroke-width="0.5"/>
<text x="56.50" y="446.59" font-size="7.7" text-anchor="middle" fill="#111" stroke="#111">1</text>
<rect x="63.20" y="437.99" width="15.37" height="11.03" fill="#ebdcdc"/>
<rect x="78.57" y="437.99" width="15.37" height="11.03" fill="#f2f2f0"/>
<rect x="93.94" y="437.99" width="15.37" height="11.03" fill="#f2f2f0"/>
<rect x="109.31" y="437.99" width="15.37" height="11.03" fill="#f2f2f0"/>
<rect x="124.68" y="437.99" width="15.37" height="11.03" fill="#f2f2f0"/>
<rect x="140.05" y="437.99" width="15.37" height="11.03" fill="#f2f2f0"/>
<rect x="155.42" y="437.99" width="15.37" height="11.03" fill="#f2f2f0"/>
<rect x="170.79" y="437.99" width="15.37" height="11.03" fill="#f2f2f0"/>
<rect x="186.16" y="437.99" width="15.37" height="11.03" fill="#f2f2f0"/>
<rect x="201.53" y="437.99" width="15.37" height="11.03" fill="#f2f2f0"/>
<text x="47.80" y="457.72" font-size="8.35" text-anchor="end" fill="#111" stroke="#111">ZEB2</text>
<rect x="53" y="449.32" width="7.8" height="10.53" fill="#f8fafd" stroke="#cdd3dd" stroke-width="0.5"/>
<text x="56.50" y="457.62" font-size="7.7" text-anchor="middle" fill="#111" stroke="#111">1</text>
<rect x="63.20" y="449.02" width="15.37" height="11.03" fill="#f2f2f0"/>
<rect x="78.57" y="449.02" width="15.37" height="11.03" fill="#f2f2f0"/>
<rect x="93.94" y="449.02" width="15.37" height="11.03" fill="#f2f2f0"/>
<rect x="109.31" y="449.02" width="15.37" height="11.03" fill="#f2f2f0"/>
<rect x="124.68" y="449.02" width="15.37" height="11.03" fill="#ebdcdc"/>
<rect x="140.05" y="449.02" width="15.37" height="11.03" fill="#f2f2f0"/>
<rect x="155.42" y="449.02" width="15.37" height="11.03" fill="#f2f2f0"/>
<rect x="170.79" y="449.02" width="15.37" height="11.03" fill="#f2f2f0"/>
<rect x="186.16" y="449.02" width="15.37" height="11.03" fill="#f2f2f0"/>
<rect x="201.53" y="449.02" width="15.37" height="11.03" fill="#f2f2f0"/>
<text x="47.80" y="468.75" font-size="8.35" text-anchor="end" fill="#111" stroke="#111">ZFHX4</text>
<rect x="53" y="460.35" width="7.8" height="10.53" fill="#f8fafd" stroke="#cdd3dd" stroke-width="0.5"/>
<text x="56.50" y="468.65" font-size="7.7" text-anchor="middle" fill="#111" stroke="#111">1</text>
<rect x="63.20" y="460.05" width="15.37" height="11.03" fill="#f2f2f0"/>
<rect x="78.57" y="460.05" width="15.37" height="11.03" fill="#ebdcdc"/>
<rect x="93.94" y="460.05" width="15.37" height="11.03" fill="#f2f2f0"/>
<rect x="109.31" y="460.05" width="15.37" height="11.03" fill="#f2f2f0"/>
<rect x="124.68" y="460.05" width="15.37" height="11.03" fill="#f2f2f0"/>
<rect x="140.05" y="460.05" width="15.37" height="11.03" fill="#f2f2f0"/>
<rect x="155.42" y="460.05" width="15.37" height="11.03" fill="#f2f2f0"/>
<rect x="170.79" y="460.05" width="15.37" height="11.03" fill="#f2f2f0"/>
<rect x="186.16" y="460.05" width="15.37" height="11.03" fill="#f2f2f0"/>
<rect x="201.53" y="460.05" width="15.37" height="11.03" fill="#f2f2f0"/>
<text x="47.80" y="479.78" font-size="8.35" text-anchor="end" fill="#111" stroke="#111">ZNF217</text>
<rect x="53" y="471.38" width="7.8" height="10.53" fill="#f8fafd" stroke="#cdd3dd" stroke-width="0.5"/>
<text x="56.50" y="479.68" font-size="7.7" text-anchor="middle" fill="#111" stroke="#111">1</text>
<rect x="63.20" y="471.08" width="15.37" height="11.03" fill="#f2f2f0"/>
<rect x="78.57" y="471.08" width="15.37" height="11.03" fill="#f2f2f0"/>
<rect x="93.94" y="471.08" width="15.37" height="11.03" fill="#f2f2f0"/>
<rect x="109.31" y="471.08" width="15.37" height="11.03" fill="#f2f2f0"/>
<rect x="124.68" y="471.08" width="15.37" height="11.03" fill="#f2f2f0"/>
<rect x="140.05" y="471.08" width="15.37" height="11.03" fill="#ebdcdc"/>
<rect x="155.42" y="471.08" width="15.37" height="11.03" fill="#f2f2f0"/>
<rect x="170.79" y="471.08" width="15.37" height="11.03" fill="#f2f2f0"/>
<rect x="186.16" y="471.08" width="15.37" height="11.03" fill="#f2f2f0"/>
<rect x="201.53" y="471.08" width="15.37" height="11.03" fill="#f2f2f0"/>
<path d="M63.20 74.00V482.11M78.57 74.00V482.11M93.94 74.00V482.11M109.31 74.00V482.11M124.68 74.00V482.11M140.05 74.00V482.11M155.42 74.00V482.11M170.79 74.00V482.11M186.16 74.00V482.11M201.53 74.00V482.11M216.90 74.00V482.11M63.20 74.00H216.90M63.20 85.03H216.90M63.20 96.06H216.90M63.20 107.09H216.90M63.20 118.12H216.90M63.20 129.15H216.90M63.20 140.18H216.90M63.20 151.21H216.90M63.20 162.24H216.90M63.20 173.27H216.90M63.20 184.30H216.90M63.20 195.33H216.90M63.20 206.36H216.90M63.20 217.39H216.90M63.20 228.42H216.90M63.20 239.45H216.90M63.20 250.48H216.90M63.20 261.51H216.90M63.20 272.54H216.90M63.20 283.57H216.90M63.20 294.60H216.90M63.20 305.63H216.90M63.20 316.66H216.90M63.20 327.69H216.90M63.20 338.72H216.90M63.20 349.75H216.90M63.20 360.78H216.90M63.20 371.81H216.90M63.20 382.84H216.90M63.20 393.87H216.90M63.20 404.90H216.90M63.20 415.93H216.90M63.20 426.96H216.90M63.20 437.99H216.90M63.20 449.02H216.90M63.20 460.05H216.90M63.20 471.08H216.90M63.20 482.11H216.90" stroke="#c9c8c8" stroke-width="0.85" fill="none"/>
<text x="226.60" y="72.40" font-size="8.6" fill="#111" stroke="#111">Mutations (n)</text>
<defs><linearGradient id="gr" x1="0" y1="0" x2="0" y2="1"><stop offset="0" stop-color="#b04a5e"/><stop offset="0.5" stop-color="#d6a3ab"/><stop offset="1" stop-color="#f6f0f0"/></linearGradient><linearGradient id="gg" x1="0" y1="0" x2="0" y2="1"><stop offset="0" stop-color="#1f5a2e"/><stop offset="0.45" stop-color="#6dac62"/><stop offset="1" stop-color="#f4f9ef"/></linearGradient><linearGradient id="gb" x1="0" y1="0" x2="0" y2="1"><stop offset="0" stop-color="#1e2d6a"/><stop offset="0.45" stop-color="#5f86c2"/><stop offset="1" stop-color="#f0f5fb"/></linearGradient></defs>
<rect x="232.8" y="86.8" width="3.5" height="50" fill="url(#gr)"/>
<text x="240.80" y="89.80" font-size="7.2" text-anchor="middle" fill="#111" stroke="#111">7</text>
<text x="240.80" y="97.05" font-size="7.2" text-anchor="middle" fill="#111" stroke="#111">6</text>
<text x="240.80" y="104.30" font-size="7.2" text-anchor="middle" fill="#111" stroke="#111">5</text>
<text x="240.80" y="111.55" font-size="7.2" text-anchor="middle" fill="#111" stroke="#111">4</text>
<text x="240.80" y="118.80" font-size="7.2" text-anchor="middle" fill="#111" stroke="#111">3</text>
<text x="240.80" y="126.05" font-size="7.2" text-anchor="middle" fill="#111" stroke="#111">2</text>
<text x="240.80" y="133.30" font-size="7.2" text-anchor="middle" fill="#111" stroke="#111">1</text>
<text x="240.80" y="140.55" font-size="7.2" text-anchor="middle" fill="#111" stroke="#111">0</text>
<text x="258.80" y="80.20" font-size="7.1" text-anchor="middle" fill="#111" stroke="#111">per</text>
<text x="258.80" y="88.80" font-size="7.1" text-anchor="middle" fill="#111" stroke="#111">Patient</text>
<rect x="256.8" y="91.4" width="3.5" height="15" fill="url(#gg)"/>
<text x="261.40" y="95.90" font-size="7.2" fill="#111" stroke="#111">26</text>
<text x="261.40" y="107.40" font-size="7.2" fill="#111" stroke="#111">3</text>
<text x="258.80" y="117.80" font-size="7.1" text-anchor="middle" fill="#111" stroke="#111">per</text>
<text x="258.80" y="126.00" font-size="7.1" text-anchor="middle" fill="#111" stroke="#111">Gene</text>
<rect x="256.8" y="127.8" width="3.5" height="15" fill="url(#gb)"/>
<text x="261.40" y="132.40" font-size="7.2" fill="#111" stroke="#111">33</text>
<text x="261.40" y="143.40" font-size="7.2" fill="#111" stroke="#111">1</text>
<text x="293.70" y="17.50" font-size="12.7" font-weight="bold" textLength="8.1" lengthAdjust="spacingAndGlyphs" fill="#000" stroke="#000">B</text>
<text x="352.50" y="32.20" font-size="10.2" text-anchor="middle" fill="#111" stroke="#111">Variant Type</text>
<text x="352.50" y="45.40" font-size="8.7" text-anchor="middle" fill="#111" stroke="#111">n = 89</text>
<path d="M352.8 99.0L352.80 59.70A39.3 39.3 0 1 1 337.92 135.37Z" fill="#3a6b54" stroke="#0a0a0a" stroke-width="1.15" stroke-linejoin="round"/>
<path d="M352.8 99.0L337.92 135.37A39.3 39.3 0 0 1 320.76 121.76Z" fill="#86a191" stroke="#0a0a0a" stroke-width="1.15" stroke-linejoin="round"/>
<path d="M352.8 99.0L320.76 121.76A39.3 39.3 0 0 1 317.88 117.03Z" fill="#e3e8e2" stroke="#0a0a0a" stroke-width="1.15" stroke-linejoin="round"/>
<path d="M352.8 99.0L317.88 117.03A39.3 39.3 0 0 1 317.26 82.22Z" fill="#2c4a80" stroke="#0a0a0a" stroke-width="1.15" stroke-linejoin="round"/>
<path d="M352.8 99.0L317.26 82.22A39.3 39.3 0 0 1 331.77 65.80Z" fill="#9aa2c9" stroke="#0a0a0a" stroke-width="1.15" stroke-linejoin="round"/>
<path d="M352.8 99.0L331.77 65.80A39.3 39.3 0 0 1 352.80 59.70Z" fill="#f1d6cd" stroke="#0a0a0a" stroke-width="1.15" stroke-linejoin="round"/>
<text x="366.90" y="102.20" font-size="8.7" text-anchor="middle" fill="#fff" stroke="#fff">50</text>
<text x="343.80" y="72.40" font-size="8.7" text-anchor="middle" fill="#111" stroke="#111">8</text>
<text x="329.90" y="81.70" font-size="8.7" text-anchor="middle" fill="#111" stroke="#111">8</text>
<text x="323.50" y="102.20" font-size="8.7" text-anchor="middle" fill="#111" stroke="#111">13</text>
<text x="333.80" y="124.80" font-size="8.7" text-anchor="middle" fill="#111" stroke="#111">8</text>
<text x="313.10" y="125.50" font-size="8.7" text-anchor="middle" fill="#111" stroke="#111">2</text>
<rect x="409.1" y="72.20" width="9.4" height="4.6" fill="#3a6b54" stroke="#0a0a0a" stroke-width="0.8"/>
<text x="421.90" y="77.30" font-size="7.9" fill="#111" stroke="#111">Missense</text>
<rect x="409.1" y="82.45" width="9.4" height="4.6" fill="#86a191" stroke="#0a0a0a" stroke-width="0.8"/>
<text x="421.90" y="87.55" font-size="7.9" fill="#111" stroke="#111">Synonymous</text>
<rect x="409.1" y="92.70" width="9.4" height="4.6" fill="#e3e8e2" stroke="#0a0a0a" stroke-width="0.8"/>
<text x="421.90" y="97.80" font-size="7.9" fill="#111" stroke="#111">Nonsense</text>
<rect x="409.1" y="102.95" width="9.4" height="4.6" fill="#2c4a80" stroke="#0a0a0a" stroke-width="0.8"/>
<text x="421.90" y="108.05" font-size="7.9" fill="#111" stroke="#111">Frameshift</text>
<rect x="409.1" y="113.20" width="9.4" height="4.6" fill="#9aa2c9" stroke="#0a0a0a" stroke-width="0.8"/>
<text x="421.90" y="118.30" font-size="7.9" fill="#111" stroke="#111">In Frame</text>
<rect x="409.1" y="123.45" width="9.4" height="4.6" fill="#f1d6cd" stroke="#0a0a0a" stroke-width="0.8"/>
<text x="421.90" y="128.55" font-size="7.9" fill="#111" stroke="#111">Splicing</text>
<path d="M470.6 74.3H473.4V92.4H470.6" fill="none" stroke="#111" stroke-width="1.05"/>
<path d="M470.6 101.9H473.4V116.2H470.6" fill="none" stroke="#111" stroke-width="1.05"/>
<text x="476.30" y="85.60" font-size="8.1" fill="#111" stroke="#111">SNV</text>
<text x="476.30" y="111.40" font-size="8.1" fill="#111" stroke="#111">Indel</text>
<text x="293.50" y="181.50" font-size="12.5" font-weight="bold" textLength="8.4" lengthAdjust="spacingAndGlyphs" fill="#000" stroke="#000">C</text>
<text x="427.80" y="179.90" font-size="9.9" text-anchor="middle" textLength="125.5" lengthAdjust="spacingAndGlyphs" fill="#111" stroke="#111">% mutated cells per variant</text>
<text x="360.80" y="199.00" font-size="8.7" text-anchor="middle" fill="#111" stroke="#111">minor</text>
<text x="360.80" y="209.50" font-size="8.7" text-anchor="middle" fill="#111" stroke="#111">variants</text>
<text x="423.50" y="199.00" font-size="8.7" text-anchor="middle" fill="#111" stroke="#111">intermediate</text>
<text x="423.50" y="209.50" font-size="8.7" text-anchor="middle" fill="#111" stroke="#111">variants</text>
<text x="486.30" y="199.00" font-size="8.7" text-anchor="middle" fill="#111" stroke="#111">major</text>
<text x="486.30" y="209.50" font-size="8.7" text-anchor="middle" fill="#111" stroke="#111">variants</text>
<rect x="353.5" y="217.0" width="15.20" height="188.0" fill="#f3f3f4"/>
<rect x="368.70" y="217.0" width="98.80" height="188.0" fill="#dddcde"/>
<rect x="467.50" y="217.0" width="38.00" height="188.0" fill="#c5c3c8"/>
<path d="M368.70 217.0V405.0M467.50 217.0V405.0" stroke="#2a2a2a" stroke-width="0.7"/>
<path d="M353.3 217.0V405.0H506.70" fill="none" stroke="#111" stroke-width="1.35"/>
<path d="M349.80 229.20H353.5M349.80 247.30H353.5M349.80 265.50H353.5M349.80 283.60H353.5M349.80 301.70H353.5M349.80 319.70H353.5M349.80 338.00H353.5M349.80 356.20H353.5M349.80 374.20H353.5M349.80 392.20H353.5" stroke="#111" stroke-width="1.0"/>
<path d="M353.50 405.0v4.0M361.10 405.0v2.0M368.70 405.0v2.0M376.30 405.0v2.0M383.90 405.0v4.0M391.50 405.0v2.0M399.10 405.0v2.0M406.70 405.0v2.0M414.30 405.0v4.0M421.90 405.0v2.0M429.50 405.0v2.0M437.10 405.0v2.0M444.70 405.0v4.0M452.30 405.0v2.0M459.90 405.0v2.0M467.50 405.0v2.0M475.10 405.0v4.0M482.70 405.0v2.0M490.30 405.0v2.0M497.90 405.0v2.0M505.50 405.0v4.0" stroke="#111" stroke-width="1.05"/>
<text x="353.50" y="418.50" font-size="8.8" text-anchor="middle" fill="#111" stroke="#111">0</text>
<text x="383.90" y="418.50" font-size="8.8" text-anchor="middle" fill="#111" stroke="#111">20</text>
<text x="414.30" y="418.50" font-size="8.8" text-anchor="middle" fill="#111" stroke="#111">40</text>
<text x="444.70" y="418.50" font-size="8.8" text-anchor="middle" fill="#111" stroke="#111">60</text>
<text x="475.10" y="418.50" font-size="8.8" text-anchor="middle" fill="#111" stroke="#111">80</text>
<text x="505.50" y="418.50" font-size="8.8" text-anchor="middle" fill="#111" stroke="#111">100</text>
<text x="431.00" y="432.00" font-size="9.0" text-anchor="middle" fill="#111" stroke="#111">%</text>
<path d="M353.50 225.10L354.75 225.10L356.00 225.11L357.25 225.11L358.50 225.11L359.75 225.12L361.00 225.13L362.25 225.14L363.50 225.15L364.75 225.17L366.00 225.20L367.40 225.23L368.80 225.27L370.20 225.31L371.60 225.36L373.00 225.41L374.40 225.46L375.80 225.52L377.20 225.57L378.60 225.64L380.00 225.70L381.60 225.77L383.20 225.84L384.80 225.91L386.40 225.99L388.00 226.08L389.60 226.16L391.20 226.24L392.80 226.33L394.40 226.41L396.00 226.50L397.55 226.59L399.10 226.68L400.65 226.77L402.20 226.86L403.75 226.96L405.30 227.05L406.85 227.15L408.40 227.23L409.95 227.32L411.50 227.40L413.20 227.48L414.90 227.57L416.60 227.65L418.30 227.74L420.00 227.82L421.70 227.89L423.40 227.95L425.10 228.00L426.80 228.04L428.50 228.05L429.85 228.04L431.20 228.03L432.55 227.99L433.90 227.95L435.25 227.89L436.60 227.82L437.95 227.74L439.30 227.65L440.65 227.55L442.00 227.45L443.57 227.33L445.14 227.20L446.71 227.05L448.28 226.89L449.85 226.73L451.42 226.55L452.99 226.38L454.56 226.22L456.13 226.05L457.70 225.90L459.23 225.75L460.76 225.60L462.29 225.45L463.82 225.29L465.35 225.14L466.88 225.00L468.41 224.86L469.94 224.73L471.47 224.61L473.00 224.50L474.24 224.40L475.48 224.31L476.72 224.23L477.96 224.16L479.20 224.09L480.44 224.03L481.68 223.98L482.92 223.93L484.16 223.89L485.40 223.85L486.75 223.82L488.10 223.80L489.45 223.79L490.80 223.78L492.15 223.78L493.50 223.79L494.85 223.79L496.20 223.80L497.55 223.80L498.90 223.80L498.90 234.80L497.55 234.80L496.20 234.80L494.85 234.81L493.50 234.81L492.15 234.82L490.80 234.82L489.45 234.81L488.10 234.80L486.75 234.78L485.40 234.75L484.16 234.71L482.92 234.67L481.68 234.62L480.44 234.57L479.20 234.51L477.96 234.44L476.72 234.37L475.48 234.29L474.24 234.20L473.00 234.10L471.47 233.99L469.94 233.87L468.41 233.74L466.88 233.60L465.35 233.46L463.82 233.31L462.29 233.15L460.76 233.00L459.23 232.85L457.70 232.70L456.13 232.55L454.56 232.38L452.99 232.22L451.42 232.05L449.85 231.88L448.28 231.71L446.71 231.55L445.14 231.40L443.57 231.27L442.00 231.15L440.65 231.05L439.30 230.95L437.95 230.86L436.60 230.78L435.25 230.71L433.90 230.65L432.55 230.61L431.20 230.57L429.85 230.56L428.50 230.55L426.80 230.56L425.10 230.60L423.40 230.65L421.70 230.71L420.00 230.78L418.30 230.86L416.60 230.95L414.90 231.03L413.20 231.12L411.50 231.20L409.95 231.28L408.40 231.37L406.85 231.45L405.30 231.55L403.75 231.64L402.20 231.74L400.65 231.83L399.10 231.92L397.55 232.01L396.00 232.10L394.40 232.19L392.80 232.27L391.20 232.36L389.60 232.44L388.00 232.53L386.40 232.61L384.80 232.69L383.20 232.76L381.60 232.83L380.00 232.90L378.60 232.96L377.20 233.03L375.80 233.08L374.40 233.14L373.00 233.19L371.60 233.24L370.20 233.29L368.80 233.33L367.40 233.37L366.00 233.40L364.75 233.43L363.50 233.45L362.25 233.46L361.00 233.47L359.75 233.48L358.50 233.49L357.25 233.49L356.00 233.49L354.75 233.50L353.50 233.50Z" fill="none" stroke="#151515" stroke-width="1.32" stroke-linejoin="round"/>
<path d="M365.4 225.8V232.8" stroke="#222" stroke-width="0.8" stroke-dasharray="1 1"/>
<path d="M490.6 224.2V234.6" stroke="#222" stroke-width="0.9"/>
<path d="M488.4 224.4V234.4" stroke="#777" stroke-width="0.6"/>
<circle cx="355.40" cy="225.30" r="1.9" fill="#2f6a4f"/>
<circle cx="353.80" cy="233.30" r="1.9" fill="#2f6a4f"/>
<circle cx="374.40" cy="229.30" r="1.9" fill="#2f6a4f"/>
<circle cx="388.80" cy="229.30" r="1.9" fill="#2f6a4f"/>
<circle cx="442.00" cy="229.20" r="1.9" fill="#2f6a4f"/>
<circle cx="484.50" cy="225.30" r="1.9" fill="#2f6a4f"/>
<circle cx="495.00" cy="225.10" r="1.9" fill="#2f6a4f"/>
<circle cx="485.00" cy="233.40" r="1.9" fill="#2f6a4f"/>
<circle cx="498.40" cy="233.40" r="1.9" fill="#2f6a4f"/>
<path d="M353.50 241.40L355.00 241.45L356.50 241.52L358.00 241.60L359.50 241.68L361.00 241.78L362.50 241.88L364.00 241.98L365.50 242.09L367.00 242.20L368.50 242.30L369.73 242.40L370.96 242.51L372.19 242.62L373.42 242.73L374.65 242.84L375.88 242.96L377.11 243.08L378.34 243.20L379.57 243.32L380.80 243.45L382.32 243.59L383.84 243.73L385.36 243.88L386.88 244.04L388.40 244.20L389.92 244.35L391.44 244.50L392.96 244.65L394.48 244.78L396.00 244.90L397.55 245.01L399.10 245.11L400.65 245.20L402.20 245.29L403.75 245.37L405.30 245.45L406.85 245.52L408.40 245.58L409.95 245.64L411.50 245.70L413.15 245.75L414.80 245.80L416.45 245.84L418.10 245.87L419.75 245.90L421.40 245.93L423.05 245.95L424.70 245.97L426.35 245.99L428.00 246.00L429.50 246.01L431.00 246.02L432.50 246.02L434.00 246.03L435.50 246.03L437.00 246.02L438.50 246.01L440.00 245.99L441.50 245.97L443.00 245.95L444.47 245.92L445.94 245.89L447.41 245.85L448.88 245.80L450.35 245.76L451.82 245.70L453.29 245.65L454.76 245.59L456.23 245.52L457.70 245.45L459.23 245.37L460.76 245.28L462.29 245.18L463.82 245.08L465.35 244.97L466.88 244.86L468.41 244.76L469.94 244.66L471.47 244.57L473.00 244.50L474.20 244.44L475.40 244.38L476.60 244.33L477.80 244.29L479.00 244.25L480.20 244.21L481.40 244.18L482.60 244.15L483.80 244.13L485.00 244.10L485.90 244.08L486.80 244.06L487.70 244.04L488.60 244.03L489.50 244.03L490.40 244.02L491.30 244.01L492.20 244.01L493.10 244.00L494.00 244.00L494.00 250.60L493.10 250.60L492.20 250.59L491.30 250.59L490.40 250.58L489.50 250.58L488.60 250.57L487.70 250.56L486.80 250.54L485.90 250.52L485.00 250.50L483.80 250.47L482.60 250.45L481.40 250.42L480.20 250.39L479.00 250.35L477.80 250.31L476.60 250.27L475.40 250.22L474.20 250.16L473.00 250.10L471.47 250.03L469.94 249.94L468.41 249.84L466.88 249.74L465.35 249.63L463.82 249.52L462.29 249.42L460.76 249.32L459.23 249.23L457.70 249.15L456.23 249.08L454.76 249.01L453.29 248.95L451.82 248.90L450.35 248.84L448.88 248.80L447.41 248.75L445.94 248.71L444.47 248.68L443.00 248.65L441.50 248.63L440.00 248.61L438.50 248.59L437.00 248.58L435.50 248.58L434.00 248.57L432.50 248.58L431.00 248.58L429.50 248.59L428.00 248.60L426.35 248.61L424.70 248.63L423.05 248.65L421.40 248.67L419.75 248.70L418.10 248.73L416.45 248.76L414.80 248.80L413.15 248.85L411.50 248.90L409.95 248.96L408.40 249.02L406.85 249.08L405.30 249.15L403.75 249.23L402.20 249.31L400.65 249.40L399.10 249.49L397.55 249.59L396.00 249.70L394.48 249.82L392.96 249.95L391.44 250.10L389.92 250.25L388.40 250.40L386.88 250.56L385.36 250.72L383.84 250.87L382.32 251.01L380.80 251.15L379.57 251.28L378.34 251.40L377.11 251.52L375.88 251.64L374.65 251.76L373.42 251.87L372.19 251.98L370.96 252.09L369.73 252.20L368.50 252.30L367.00 252.40L365.50 252.51L364.00 252.62L362.50 252.72L361.00 252.82L359.50 252.92L358.00 253.00L356.50 253.08L355.00 253.15L353.50 253.20Z" fill="none" stroke="#151515" stroke-width="1.32" stroke-linejoin="round"/>
<circle cx="353.60" cy="243.00" r="1.9" fill="#2f6a4f"/>
<circle cx="354.00" cy="247.50" r="1.9" fill="#2f6a4f"/>
<circle cx="353.60" cy="251.50" r="1.9" fill="#2f6a4f"/>
<circle cx="446.00" cy="247.50" r="1.9" fill="#2f6a4f"/>
<circle cx="487.80" cy="247.40" r="1.9" fill="#2f6a4f"/>
<circle cx="493.80" cy="247.30" r="1.9" fill="#2f6a4f"/>
<path d="M439.50 262.10L439.85 262.15L440.20 262.20L440.55 262.27L440.90 262.34L441.25 262.42L441.60 262.51L441.95 262.60L442.30 262.70L442.65 262.80L443.00 262.90L443.40 263.01L443.80 263.14L444.20 263.28L444.60 263.42L445.00 263.57L445.40 263.72L445.80 263.86L446.20 263.99L446.60 264.10L447.00 264.20L447.30 264.28L447.60 264.36L447.90 264.43L448.20 264.49L448.50 264.55L448.80 264.59L449.10 264.62L449.40 264.64L449.70 264.65L450.00 264.65L450.40 264.64L450.80 264.62L451.20 264.59L451.60 264.55L452.00 264.50L452.40 264.44L452.80 264.35L453.20 264.26L453.60 264.14L454.00 264.00L454.68 263.83L455.36 263.62L456.04 263.39L456.72 263.13L457.40 262.87L458.08 262.60L458.76 262.34L459.44 262.08L460.12 261.85L460.80 261.65L461.57 261.47L462.34 261.30L463.11 261.15L463.88 261.00L464.65 260.86L465.42 260.73L466.19 260.61L466.96 260.50L467.73 260.40L468.50 260.30L469.25 260.21L470.00 260.13L470.75 260.05L471.50 259.99L472.25 259.93L473.00 259.88L473.75 259.84L474.50 259.80L475.25 259.77L476.00 259.75L476.50 259.73L477.00 259.73L477.50 259.73L478.00 259.73L478.50 259.75L479.00 259.77L479.50 259.79L480.00 259.82L480.50 259.86L481.00 259.90L481.28 259.95L481.56 260.00L481.84 260.05L482.12 260.11L482.40 260.18L482.68 260.25L482.96 260.33L483.24 260.41L483.52 260.50L483.80 260.60L483.94 260.71L484.08 260.84L484.22 260.99L484.36 261.14L484.50 261.29L484.64 261.44L484.78 261.59L484.92 261.71L485.06 261.82L485.20 261.90L485.20 269.10L485.06 269.18L484.92 269.29L484.78 269.41L484.64 269.56L484.50 269.71L484.36 269.86L484.22 270.01L484.08 270.16L483.94 270.29L483.80 270.40L483.52 270.50L483.24 270.59L482.96 270.67L482.68 270.75L482.40 270.82L482.12 270.89L481.84 270.95L481.56 271.00L481.28 271.05L481.00 271.10L480.50 271.14L480.00 271.18L479.50 271.21L479.00 271.23L478.50 271.25L478.00 271.27L477.50 271.27L477.00 271.27L476.50 271.27L476.00 271.25L475.25 271.23L474.50 271.20L473.75 271.16L473.00 271.12L472.25 271.07L471.50 271.01L470.75 270.95L470.00 270.87L469.25 270.79L468.50 270.70L467.73 270.60L466.96 270.50L466.19 270.39L465.42 270.27L464.65 270.14L463.88 270.00L463.11 269.85L462.34 269.70L461.57 269.53L460.80 269.35L460.12 269.15L459.44 268.92L458.76 268.66L458.08 268.40L457.40 268.13L456.72 267.87L456.04 267.61L455.36 267.38L454.68 267.17L454.00 267.00L453.60 266.86L453.20 266.74L452.80 266.65L452.40 266.56L452.00 266.50L451.60 266.45L451.20 266.41L450.80 266.38L450.40 266.36L450.00 266.35L449.70 266.35L449.40 266.36L449.10 266.38L448.80 266.41L448.50 266.45L448.20 266.51L447.90 266.57L447.60 266.64L447.30 266.72L447.00 266.80L446.60 266.90L446.20 267.01L445.80 267.14L445.40 267.28L445.00 267.43L444.60 267.58L444.20 267.72L443.80 267.86L443.40 267.99L443.00 268.10L442.65 268.20L442.30 268.30L441.95 268.40L441.60 268.49L441.25 268.58L440.90 268.66L440.55 268.73L440.20 268.80L439.85 268.85L439.50 268.90Z" fill="none" stroke="#151515" stroke-width="1.25" stroke-linejoin="round"/>
<path d="M471.6 262.4V268.8" stroke="#222" stroke-width="0.9" stroke-dasharray="0.9 0.9"/>
<circle cx="440.60" cy="265.50" r="1.9" fill="#2f6a4f"/>
<circle cx="467.00" cy="265.50" r="1.9" fill="#2f6a4f"/>
<circle cx="477.60" cy="265.50" r="1.9" fill="#2f6a4f"/>
<circle cx="484.30" cy="265.50" r="1.9" fill="#2f6a4f"/>
<path d="M353.5 283.7H462.6" stroke="#151515" stroke-width="1.55"/>
<path d="M354.0 279.6L358.6 283.7L354.0 287.8Z" fill="#151515"/>
<path d="M462.9 280.1V287.5L458.6 283.7Z" fill="#151515"/>
<circle cx="353.60" cy="280.20" r="1.85" fill="#2f6a4f"/>
<circle cx="354.60" cy="281.80" r="1.85" fill="#2f6a4f"/>
<circle cx="353.00" cy="283.00" r="1.85" fill="#2f6a4f"/>
<circle cx="355.00" cy="283.90" r="1.85" fill="#2f6a4f"/>
<circle cx="353.20" cy="285.00" r="1.85" fill="#2f6a4f"/>
<circle cx="354.80" cy="286.00" r="1.85" fill="#2f6a4f"/>
<circle cx="353.60" cy="287.40" r="1.85" fill="#2f6a4f"/>
<circle cx="461.00" cy="283.70" r="1.8" fill="#2f6a4f"/>
<path d="M353.5 301.8H416.8" stroke="#151515" stroke-width="1.9"/>
<circle cx="353.40" cy="298.10" r="1.95" fill="#5fa6e2"/>
<circle cx="355.00" cy="297.70" r="1.95" fill="#5fa6e2"/>
<circle cx="352.80" cy="299.70" r="1.95" fill="#5fa6e2"/>
<circle cx="354.80" cy="299.30" r="1.95" fill="#5fa6e2"/>
<circle cx="356.60" cy="299.30" r="1.95" fill="#5fa6e2"/>
<circle cx="353.40" cy="301.30" r="1.95" fill="#5fa6e2"/>
<circle cx="355.40" cy="301.10" r="1.95" fill="#5fa6e2"/>
<circle cx="357.40" cy="300.90" r="1.95" fill="#5fa6e2"/>
<circle cx="358.60" cy="301.70" r="1.95" fill="#5fa6e2"/>
<circle cx="352.80" cy="302.90" r="1.95" fill="#5fa6e2"/>
<circle cx="354.80" cy="302.70" r="1.95" fill="#5fa6e2"/>
<circle cx="356.80" cy="302.90" r="1.95" fill="#5fa6e2"/>
<circle cx="353.80" cy="304.50" r="1.95" fill="#5fa6e2"/>
<circle cx="355.80" cy="304.50" r="1.95" fill="#5fa6e2"/>
<circle cx="354.60" cy="305.50" r="1.95" fill="#5fa6e2"/>
<circle cx="353.40" cy="305.30" r="1.95" fill="#5fa6e2"/>
<circle cx="368.00" cy="301.80" r="2.0" fill="#5fa6e2"/>
<circle cx="378.60" cy="301.60" r="2.0" fill="#5fa6e2"/>
<circle cx="380.20" cy="302.00" r="2.0" fill="#5fa6e2"/>
<circle cx="394.70" cy="301.80" r="2.0" fill="#5fa6e2"/>
<circle cx="416.80" cy="301.80" r="2.0" fill="#5fa6e2"/>
<path d="M353.5 319.7H475" stroke="#151515" stroke-width="1.5"/>
<path d="M475.6 316.8V322.6L472.0 319.7Z" fill="#151515"/>
<circle cx="353.60" cy="315.60" r="1.95" fill="#5fa6e2"/>
<circle cx="355.60" cy="315.60" r="1.95" fill="#5fa6e2"/>
<circle cx="357.20" cy="316.20" r="1.95" fill="#5fa6e2"/>
<circle cx="352.80" cy="317.40" r="1.95" fill="#5fa6e2"/>
<circle cx="354.80" cy="317.20" r="1.95" fill="#5fa6e2"/>
<circle cx="356.80" cy="317.60" r="1.95" fill="#5fa6e2"/>
<circle cx="353.20" cy="319.20" r="1.95" fill="#5fa6e2"/>
<circle cx="355.20" cy="319.20" r="1.95" fill="#5fa6e2"/>
<circle cx="357.20" cy="319.40" r="1.95" fill="#5fa6e2"/>
<circle cx="352.80" cy="321.00" r="1.95" fill="#5fa6e2"/>
<circle cx="354.80" cy="321.00" r="1.95" fill="#5fa6e2"/>
<circle cx="356.80" cy="321.00" r="1.95" fill="#5fa6e2"/>
<circle cx="353.60" cy="322.80" r="1.95" fill="#5fa6e2"/>
<circle cx="355.60" cy="322.80" r="1.95" fill="#5fa6e2"/>
<circle cx="356.80" cy="322.20" r="1.95" fill="#5fa6e2"/>
<circle cx="354.60" cy="323.00" r="1.95" fill="#5fa6e2"/>
<circle cx="367.20" cy="319.70" r="2.0" fill="#5fa6e2"/>
<circle cx="475.20" cy="319.70" r="2.0" fill="#5fa6e2"/>
<path d="M407.90 338.00H408.60M408.60 338.00H409.30M409.30 338.00H410.00M410.00 338.00H412.00M412.00 338.00H414.00M414.00 338.00H416.00M416.00 338.00H418.00M418.00 338.00H420.00M420.00 338.00H422.00M422.00 338.00H424.00M424.00 338.00H426.00M426.00 338.00H428.00M428.00 338.00H430.00M430.00 338.00H431.50M431.50 338.00H433.00M433.00 338.00H434.50M434.50 338.00H436.00M436.00 338.00H437.50M437.50 338.00H439.00M439.00 338.00H440.50M440.50 338.00H442.00M442.00 338.00H443.50M443.50 338.00H445.00M445.00 338.00H445.65M445.65 338.00H446.30M446.30 338.00H446.95" stroke="#151515" stroke-width="1.6" fill="none"/>
<path d="M353.50 333.20L354.75 333.20L356.00 333.20L357.25 333.20L358.50 333.20L359.75 333.21L361.00 333.21L362.25 333.22L363.50 333.24L364.75 333.27L366.00 333.30L366.90 333.35L367.80 333.40L368.70 333.47L369.60 333.54L370.50 333.62L371.40 333.70L372.30 333.78L373.20 333.86L374.10 333.93L375.00 334.00L375.60 334.06L376.20 334.12L376.80 334.17L377.40 334.23L378.00 334.28L378.60 334.34L379.20 334.39L379.80 334.46L380.40 334.52L381.00 334.60L381.80 334.68L382.60 334.78L383.40 334.88L384.20 334.98L385.00 335.09L385.80 335.20L386.60 335.30L387.40 335.41L388.20 335.51L389.00 335.60L389.70 335.69L390.40 335.78L391.10 335.86L391.80 335.95L392.50 336.03L393.20 336.11L393.90 336.19L394.60 336.26L395.30 336.33L396.00 336.40L396.70 336.46L397.40 336.52L398.10 336.58L398.80 336.63L399.50 336.68L400.20 336.73L400.90 336.78L401.60 336.82L402.30 336.86L403.00 336.90L403.70 336.94L404.40 336.97L405.10 337.00L405.80 337.03L406.50 337.05L407.20 337.07L407.90 337.09L408.60 337.11L409.30 337.13L410.00 337.15L412.00 337.17L414.00 337.18L416.00 337.20L418.00 337.21L420.00 337.22L422.00 337.23L424.00 337.24L426.00 337.24L428.00 337.25L430.00 337.25L431.50 337.25L433.00 337.26L434.50 337.26L436.00 337.26L437.50 337.26L439.00 337.26L440.50 337.25L442.00 337.24L443.50 337.22L445.00 337.20L445.65 337.17L446.30 337.14L446.95 337.10L447.60 337.06L448.25 337.02L448.90 336.97L449.55 336.92L450.20 336.87L450.85 336.81L451.50 336.75L452.05 336.69L452.60 336.62L453.15 336.54L453.70 336.46L454.25 336.38L454.80 336.30L455.35 336.22L455.90 336.14L456.45 336.07L457.00 336.00L457.40 335.94L457.80 335.88L458.20 335.83L458.60 335.78L459.00 335.73L459.40 335.68L459.80 335.63L460.20 335.59L460.60 335.54L461.00 335.50L461.75 335.45L462.50 335.41L463.25 335.36L464.00 335.31L464.75 335.27L465.50 335.23L466.25 335.19L467.00 335.15L467.75 335.12L468.50 335.10L469.88 335.08L471.26 335.07L472.64 335.07L474.02 335.07L475.40 335.07L476.78 335.08L478.16 335.09L479.54 335.09L480.92 335.10L482.30 335.10L482.30 340.90L480.92 340.90L479.54 340.91L478.16 340.91L476.78 340.92L475.40 340.93L474.02 340.93L472.64 340.93L471.26 340.93L469.88 340.92L468.50 340.90L467.75 340.88L467.00 340.85L466.25 340.81L465.50 340.77L464.75 340.73L464.00 340.69L463.25 340.64L462.50 340.59L461.75 340.55L461.00 340.50L460.60 340.46L460.20 340.41L459.80 340.37L459.40 340.32L459.00 340.27L458.60 340.22L458.20 340.17L457.80 340.12L457.40 340.06L457.00 340.00L456.45 339.93L455.90 339.86L455.35 339.78L454.80 339.70L454.25 339.62L453.70 339.54L453.15 339.46L452.60 339.38L452.05 339.31L451.50 339.25L450.85 339.19L450.20 339.13L449.55 339.08L448.90 339.03L448.25 338.98L447.60 338.94L446.95 338.90L446.30 338.86L445.65 338.83L445.00 338.80L443.50 338.78L442.00 338.76L440.50 338.75L439.00 338.74L437.50 338.74L436.00 338.74L434.50 338.74L433.00 338.74L431.50 338.75L430.00 338.75L428.00 338.75L426.00 338.76L424.00 338.76L422.00 338.77L420.00 338.78L418.00 338.79L416.00 338.80L414.00 338.82L412.00 338.83L410.00 338.85L409.30 338.87L408.60 338.89L407.90 338.91L407.20 338.93L406.50 338.95L405.80 338.97L405.10 339.00L404.40 339.03L403.70 339.06L403.00 339.10L402.30 339.14L401.60 339.18L400.90 339.22L400.20 339.27L399.50 339.32L398.80 339.37L398.10 339.42L397.40 339.48L396.70 339.54L396.00 339.60L395.30 339.67L394.60 339.74L393.90 339.81L393.20 339.89L392.50 339.97L391.80 340.05L391.10 340.14L390.40 340.22L389.70 340.31L389.00 340.40L388.20 340.49L387.40 340.59L386.60 340.70L385.80 340.80L385.00 340.91L384.20 341.02L383.40 341.12L382.60 341.22L381.80 341.32L381.00 341.40L380.40 341.48L379.80 341.54L379.20 341.61L378.60 341.66L378.00 341.72L377.40 341.77L376.80 341.83L376.20 341.88L375.60 341.94L375.00 342.00L374.10 342.07L373.20 342.14L372.30 342.22L371.40 342.30L370.50 342.38L369.60 342.46L368.70 342.53L367.80 342.60L366.90 342.65L366.00 342.70L364.75 342.73L363.50 342.76L362.25 342.78L361.00 342.79L359.75 342.79L358.50 342.80L357.25 342.80L356.00 342.80L354.75 342.80L353.50 342.80Z" fill="none" stroke="#151515" stroke-width="1.32" stroke-linejoin="round"/>
<circle cx="354.00" cy="332.90" r="1.9" fill="#2f6a4f"/>
<circle cx="353.50" cy="342.10" r="1.9" fill="#2f6a4f"/>
<circle cx="358.00" cy="338.00" r="1.9" fill="#2f6a4f"/>
<circle cx="362.30" cy="338.00" r="1.9" fill="#2f6a4f"/>
<circle cx="373.90" cy="338.00" r="1.9" fill="#2f6a4f"/>
<circle cx="446.60" cy="338.00" r="1.9" fill="#2f6a4f"/>
<circle cx="476.70" cy="338.00" r="1.9" fill="#2f6a4f"/>
<circle cx="482.30" cy="338.00" r="1.9" fill="#2f6a4f"/>
<path d="M417.75 356.10H419.00M419.00 356.10H420.25M420.25 356.10H421.50M421.50 356.10H422.75M422.75 356.10H424.00M424.00 356.10H425.80M425.80 356.10H427.60M427.60 356.10H429.40M429.40 356.10H431.20M431.20 356.10H433.00M433.00 356.10H434.80M434.80 356.10H436.60M436.60 356.10H438.40M438.40 356.10H440.20M440.20 356.10H442.00M442.00 356.10H442.95M442.95 356.10H443.90M443.90 356.10H444.85M444.85 356.10H445.80M445.80 356.10H446.75" stroke="#151515" stroke-width="1.6" fill="none"/>
<path d="M353.50 351.70L354.65 351.72L355.80 351.75L356.95 351.77L358.10 351.81L359.25 351.84L360.40 351.88L361.55 351.93L362.70 351.98L363.85 352.04L365.00 352.10L366.58 352.17L368.16 352.24L369.74 352.33L371.32 352.41L372.90 352.51L374.48 352.60L376.06 352.70L377.64 352.80L379.22 352.90L380.80 353.00L382.32 353.10L383.84 353.21L385.36 353.32L386.88 353.44L388.40 353.55L389.92 353.67L391.44 353.78L392.96 353.89L394.48 354.00L396.00 354.10L397.55 354.20L399.10 354.29L400.65 354.39L402.20 354.48L403.75 354.57L405.30 354.65L406.85 354.74L408.40 354.81L409.95 354.88L411.50 354.95L412.75 355.01L414.00 355.06L415.25 355.11L416.50 355.16L417.75 355.20L419.00 355.24L420.25 355.27L421.50 355.30L422.75 355.33L424.00 355.35L425.80 355.37L427.60 355.39L429.40 355.41L431.20 355.43L433.00 355.44L434.80 355.44L436.60 355.44L438.40 355.44L440.20 355.42L442.00 355.40L442.95 355.37L443.90 355.34L444.85 355.31L445.80 355.27L446.75 355.23L447.70 355.17L448.65 355.10L449.60 355.02L450.55 354.92L451.50 354.80L452.43 354.65L453.36 354.48L454.29 354.28L455.22 354.07L456.15 353.84L457.08 353.62L458.01 353.39L458.94 353.18L459.87 352.98L460.80 352.80L461.57 352.64L462.34 352.49L463.11 352.34L463.88 352.21L464.65 352.08L465.42 351.95L466.19 351.83L466.96 351.72L467.73 351.61L468.50 351.50L469.55 351.40L470.60 351.30L471.65 351.21L472.70 351.13L473.75 351.05L474.80 350.97L475.85 350.90L476.90 350.83L477.95 350.77L479.00 350.70L480.59 350.64L482.18 350.57L483.77 350.51L485.36 350.45L486.95 350.40L488.54 350.35L490.13 350.30L491.72 350.26L493.31 350.23L494.90 350.20L494.90 362.00L493.31 361.97L491.72 361.94L490.13 361.90L488.54 361.85L486.95 361.80L485.36 361.75L483.77 361.69L482.18 361.63L480.59 361.56L479.00 361.50L477.95 361.43L476.90 361.37L475.85 361.30L474.80 361.23L473.75 361.15L472.70 361.07L471.65 360.99L470.60 360.90L469.55 360.80L468.50 360.70L467.73 360.59L466.96 360.48L466.19 360.37L465.42 360.25L464.65 360.12L463.88 359.99L463.11 359.86L462.34 359.71L461.57 359.56L460.80 359.40L459.87 359.22L458.94 359.02L458.01 358.81L457.08 358.58L456.15 358.36L455.22 358.13L454.29 357.92L453.36 357.72L452.43 357.55L451.50 357.40L450.55 357.28L449.60 357.18L448.65 357.10L447.70 357.03L446.75 356.97L445.80 356.93L444.85 356.89L443.90 356.86L442.95 356.83L442.00 356.80L440.20 356.78L438.40 356.76L436.60 356.76L434.80 356.76L433.00 356.76L431.20 356.77L429.40 356.79L427.60 356.81L425.80 356.83L424.00 356.85L422.75 356.87L421.50 356.90L420.25 356.93L419.00 356.96L417.75 357.00L416.50 357.04L415.25 357.09L414.00 357.14L412.75 357.19L411.50 357.25L409.95 357.32L408.40 357.39L406.85 357.46L405.30 357.55L403.75 357.63L402.20 357.72L400.65 357.81L399.10 357.91L397.55 358.00L396.00 358.10L394.48 358.20L392.96 358.31L391.44 358.42L389.92 358.53L388.40 358.65L386.88 358.76L385.36 358.88L383.84 358.99L382.32 359.10L380.80 359.20L379.22 359.30L377.64 359.40L376.06 359.50L374.48 359.60L372.90 359.69L371.32 359.79L369.74 359.87L368.16 359.96L366.58 360.03L365.00 360.10L363.85 360.16L362.70 360.22L361.55 360.27L360.40 360.32L359.25 360.36L358.10 360.39L356.95 360.43L355.80 360.45L354.65 360.48L353.50 360.50Z" fill="none" stroke="#151515" stroke-width="1.32" stroke-linejoin="round"/>
<circle cx="353.60" cy="351.80" r="1.9" fill="#2f6a4f"/>
<circle cx="353.60" cy="356.00" r="1.9" fill="#2f6a4f"/>
<circle cx="357.30" cy="357.30" r="1.9" fill="#2f6a4f"/>
<circle cx="353.40" cy="360.50" r="1.9" fill="#2f6a4f"/>
<circle cx="474.70" cy="356.20" r="1.9" fill="#2f6a4f"/>
<circle cx="494.60" cy="351.40" r="1.8" fill="#2f6a4f"/>
<circle cx="493.80" cy="353.40" r="1.8" fill="#2f6a4f"/>
<circle cx="487.40" cy="354.60" r="1.8" fill="#2f6a4f"/>
<circle cx="493.40" cy="355.40" r="1.8" fill="#2f6a4f"/>
<circle cx="488.60" cy="356.40" r="1.8" fill="#2f6a4f"/>
<circle cx="492.80" cy="357.20" r="1.8" fill="#2f6a4f"/>
<circle cx="489.60" cy="358.20" r="1.8" fill="#2f6a4f"/>
<circle cx="492.20" cy="359.00" r="1.8" fill="#2f6a4f"/>
<circle cx="491.00" cy="360.20" r="1.8" fill="#2f6a4f"/>
<circle cx="491.80" cy="361.00" r="1.8" fill="#2f6a4f"/>
<path d="M390.00 374.20H390.60M390.60 374.20H391.20M391.20 374.20H391.80M391.80 374.20H392.40M392.40 374.20H393.00M393.00 374.20H395.70M395.70 374.20H398.40M398.40 374.20H401.10M401.10 374.20H403.80M403.80 374.20H406.50M406.50 374.20H409.20M409.20 374.20H411.90M411.90 374.20H414.60M414.60 374.20H417.30M417.30 374.20H420.00M420.00 374.20H421.50M421.50 374.20H423.00M423.00 374.20H424.50M424.50 374.20H426.00M426.00 374.20H427.50M427.50 374.20H429.00M429.00 374.20H430.50M430.50 374.20H432.00" stroke="#151515" stroke-width="1.6" fill="none"/>
<path d="M353.50 371.00L353.75 370.89L354.00 370.74L354.25 370.56L354.50 370.36L354.75 370.15L355.00 369.93L355.25 369.72L355.50 369.52L355.75 369.35L356.00 369.20L356.35 369.07L356.70 368.95L357.05 368.83L357.40 368.72L357.75 368.62L358.10 368.54L358.45 368.48L358.80 368.43L359.15 368.40L359.50 368.40L359.95 368.43L360.40 368.48L360.85 368.56L361.30 368.66L361.75 368.77L362.20 368.90L362.65 369.03L363.10 369.16L363.55 369.28L364.00 369.40L364.45 369.51L364.90 369.63L365.35 369.75L365.80 369.87L366.25 369.99L366.70 370.11L367.15 370.23L367.60 370.36L368.05 370.48L368.50 370.60L369.15 370.72L369.80 370.85L370.45 370.97L371.10 371.10L371.75 371.22L372.40 371.35L373.05 371.47L373.70 371.59L374.35 371.70L375.00 371.80L375.58 371.90L376.16 371.99L376.74 372.08L377.32 372.16L377.90 372.24L378.48 372.32L379.06 372.39L379.64 372.46L380.22 372.53L380.80 372.60L381.42 372.67L382.04 372.73L382.66 372.79L383.28 372.85L383.90 372.91L384.52 372.96L385.14 373.01L385.76 373.06L386.38 373.11L387.00 373.15L387.60 373.19L388.20 373.22L388.80 373.25L389.40 373.28L390.00 373.30L390.60 373.33L391.20 373.35L391.80 373.36L392.40 373.38L393.00 373.40L395.70 373.42L398.40 373.44L401.10 373.45L403.80 373.47L406.50 373.48L409.20 373.49L411.90 373.50L414.60 373.50L417.30 373.50L420.00 373.50L421.50 373.49L423.00 373.47L424.50 373.45L426.00 373.42L427.50 373.39L429.00 373.36L430.50 373.32L432.00 373.30L433.50 373.27L435.00 373.25L437.50 373.23L440.00 373.22L442.50 373.21L445.00 373.19L447.50 373.18L450.00 373.18L452.50 373.17L455.00 373.16L457.50 373.16L460.00 373.15L462.02 373.15L464.04 373.14L466.06 373.14L468.08 373.14L470.10 373.14L472.12 373.15L474.14 373.15L476.16 373.15L478.18 373.15L480.20 373.15L480.20 375.25L478.18 375.25L476.16 375.25L474.14 375.25L472.12 375.25L470.10 375.26L468.08 375.26L466.06 375.26L464.04 375.26L462.02 375.25L460.00 375.25L457.50 375.24L455.00 375.24L452.50 375.23L450.00 375.22L447.50 375.22L445.00 375.21L442.50 375.19L440.00 375.18L437.50 375.17L435.00 375.15L433.50 375.13L432.00 375.10L430.50 375.07L429.00 375.04L427.50 375.01L426.00 374.98L424.50 374.95L423.00 374.93L421.50 374.91L420.00 374.90L417.30 374.90L414.60 374.90L411.90 374.90L409.20 374.91L406.50 374.92L403.80 374.93L401.10 374.95L398.40 374.96L395.70 374.98L393.00 375.00L392.40 375.02L391.80 375.04L391.20 375.05L390.60 375.07L390.00 375.10L389.40 375.12L388.80 375.15L388.20 375.18L387.60 375.21L387.00 375.25L386.38 375.29L385.76 375.34L385.14 375.39L384.52 375.44L383.90 375.49L383.28 375.55L382.66 375.61L382.04 375.67L381.42 375.73L380.80 375.80L380.22 375.87L379.64 375.94L379.06 376.01L378.48 376.08L377.90 376.16L377.32 376.24L376.74 376.32L376.16 376.41L375.58 376.50L375.00 376.60L374.35 376.70L373.70 376.81L373.05 376.93L372.40 377.05L371.75 377.18L371.10 377.30L370.45 377.43L369.80 377.55L369.15 377.68L368.50 377.80L368.05 377.92L367.60 378.04L367.15 378.17L366.70 378.29L366.25 378.41L365.80 378.53L365.35 378.65L364.90 378.77L364.45 378.89L364.00 379.00L363.55 379.12L363.10 379.24L362.65 379.37L362.20 379.50L361.75 379.62L361.30 379.74L360.85 379.84L360.40 379.92L359.95 379.97L359.50 380.00L359.15 380.00L358.80 379.97L358.45 379.92L358.10 379.86L357.75 379.77L357.40 379.68L357.05 379.57L356.70 379.45L356.35 379.33L356.00 379.20L355.75 379.05L355.50 378.88L355.25 378.68L355.00 378.47L354.75 378.25L354.50 378.04L354.25 377.84L354.00 377.66L353.75 377.51L353.50 377.40Z" fill="none" stroke="#151515" stroke-width="1.32" stroke-linejoin="round"/>
<circle cx="354.20" cy="369.60" r="1.8" fill="#2f6a4f"/>
<circle cx="353.80" cy="371.60" r="1.8" fill="#2f6a4f"/>
<circle cx="355.60" cy="372.60" r="1.8" fill="#2f6a4f"/>
<circle cx="354.00" cy="374.00" r="1.8" fill="#2f6a4f"/>
<circle cx="356.40" cy="374.60" r="1.8" fill="#2f6a4f"/>
<circle cx="354.60" cy="376.00" r="1.8" fill="#2f6a4f"/>
<circle cx="357.20" cy="376.60" r="1.8" fill="#2f6a4f"/>
<circle cx="355.00" cy="377.80" r="1.8" fill="#2f6a4f"/>
<circle cx="353.80" cy="378.40" r="1.8" fill="#2f6a4f"/>
<circle cx="439.90" cy="374.20" r="1.9" fill="#2f6a4f"/>
<circle cx="446.80" cy="374.20" r="1.9" fill="#2f6a4f"/>
<circle cx="465.30" cy="374.20" r="1.9" fill="#2f6a4f"/>
<circle cx="480.70" cy="374.20" r="1.9" fill="#2f6a4f"/>
<path d="M353.50 386.20L355.00 386.25L356.50 386.31L358.00 386.38L359.50 386.47L361.00 386.56L362.50 386.65L364.00 386.74L365.50 386.83L367.00 386.92L368.50 387.00L369.73 387.07L370.96 387.14L372.19 387.20L373.42 387.27L374.65 387.33L375.88 387.40L377.11 387.46L378.34 387.54L379.57 387.61L380.80 387.70L382.32 387.79L383.84 387.90L385.36 388.00L386.88 388.12L388.40 388.23L389.92 388.35L391.44 388.46L392.96 388.58L394.48 388.69L396.00 388.80L397.55 388.91L399.10 389.01L400.65 389.12L402.20 389.22L403.75 389.33L405.30 389.43L406.85 389.53L408.40 389.62L409.95 389.71L411.50 389.80L413.05 389.88L414.60 389.96L416.15 390.03L417.70 390.10L419.25 390.17L420.80 390.24L422.35 390.30L423.90 390.35L425.45 390.40L427.00 390.45L428.20 390.49L429.40 390.54L430.60 390.57L431.80 390.61L433.00 390.64L434.20 390.67L435.40 390.69L436.60 390.70L437.80 390.70L439.00 390.70L440.25 390.69L441.50 390.66L442.75 390.63L444.00 390.60L445.25 390.55L446.50 390.51L447.75 390.46L449.00 390.40L450.25 390.35L451.50 390.30L452.43 390.25L453.36 390.19L454.29 390.13L455.22 390.07L456.15 390.01L457.08 389.95L458.01 389.89L458.94 389.82L459.87 389.76L460.80 389.70L461.57 389.64L462.34 389.58L463.11 389.51L463.88 389.45L464.65 389.38L465.42 389.32L466.19 389.26L466.96 389.20L467.73 389.15L468.50 389.10L469.70 389.06L470.90 389.02L472.10 388.98L473.30 388.94L474.50 388.91L475.70 388.88L476.90 388.86L478.10 388.84L479.30 388.82L480.50 388.80L480.50 395.20L479.30 395.18L478.10 395.16L476.90 395.14L475.70 395.12L474.50 395.09L473.30 395.06L472.10 395.02L470.90 394.98L469.70 394.94L468.50 394.90L467.73 394.85L466.96 394.80L466.19 394.74L465.42 394.68L464.65 394.62L463.88 394.55L463.11 394.49L462.34 394.42L461.57 394.36L460.80 394.30L459.87 394.24L458.94 394.18L458.01 394.11L457.08 394.05L456.15 393.99L455.22 393.93L454.29 393.87L453.36 393.81L452.43 393.75L451.50 393.70L450.25 393.65L449.00 393.60L447.75 393.54L446.50 393.49L445.25 393.45L444.00 393.40L442.75 393.37L441.50 393.34L440.25 393.31L439.00 393.30L437.80 393.30L436.60 393.30L435.40 393.31L434.20 393.33L433.00 393.36L431.80 393.39L430.60 393.43L429.40 393.46L428.20 393.51L427.00 393.55L425.45 393.60L423.90 393.65L422.35 393.70L420.80 393.76L419.25 393.83L417.70 393.90L416.15 393.97L414.60 394.04L413.05 394.12L411.50 394.20L409.95 394.29L408.40 394.38L406.85 394.47L405.30 394.57L403.75 394.67L402.20 394.78L400.65 394.88L399.10 394.99L397.55 395.09L396.00 395.20L394.48 395.31L392.96 395.42L391.44 395.54L389.92 395.65L388.40 395.77L386.88 395.88L385.36 396.00L383.84 396.10L382.32 396.21L380.80 396.30L379.57 396.39L378.34 396.46L377.11 396.54L375.88 396.60L374.65 396.67L373.42 396.73L372.19 396.80L370.96 396.86L369.73 396.93L368.50 397.00L367.00 397.08L365.50 397.17L364.00 397.26L362.50 397.35L361.00 397.44L359.50 397.53L358.00 397.62L356.50 397.69L355.00 397.75L353.50 397.80Z" fill="none" stroke="#151515" stroke-width="1.32" stroke-linejoin="round"/>
<circle cx="354.90" cy="388.50" r="1.9" fill="#2f6a4f"/>
<circle cx="353.70" cy="396.30" r="1.9" fill="#2f6a4f"/>
<circle cx="480.50" cy="392.20" r="1.9" fill="#2f6a4f"/>
<text x="346.90" y="232.10" font-size="8.2" text-anchor="end" fill="#111" stroke="#111">X09</text>
<text x="346.90" y="250.20" font-size="8.2" text-anchor="end" fill="#111" stroke="#111">XB37</text>
<text x="346.90" y="268.40" font-size="8.2" text-anchor="end" fill="#111" stroke="#111">XB47</text>
<text x="346.90" y="286.50" font-size="8.2" text-anchor="end" fill="#111" stroke="#111">Diagnosis</text>
<text x="346.9" y="304.60" font-size="8.2" text-anchor="end" fill="#111" stroke="#111">1<tspan font-size="5.8" dy="-3.5">st</tspan><tspan dy="3.5"> Relapse</tspan></text>
<text x="346.9" y="322.60" font-size="8.2" text-anchor="end" fill="#111" stroke="#111">2<tspan font-size="5.8" dy="-3.5">nd</tspan><tspan dy="3.5"> Relapse</tspan></text>
<text x="346.90" y="340.90" font-size="8.2" text-anchor="end" fill="#111" stroke="#111">XF91</text>
<text x="346.90" y="359.10" font-size="8.2" text-anchor="end" fill="#111" stroke="#111">XF97</text>
<text x="346.90" y="377.10" font-size="8.2" text-anchor="end" fill="#111" stroke="#111">XF100</text>
<text x="346.90" y="395.10" font-size="8.2" text-anchor="end" fill="#111" stroke="#111">XG121</text>
<text x="295.90" y="304.60" font-size="8.3" text-anchor="end" fill="#111" stroke="#111">XD83</text>
<rect x="298.6" y="279.2" width="1.3" height="45.4" fill="#111"/>
<text x="7.80" y="511.00" font-size="12.5" font-weight="bold" fill="#000" stroke="#000">D</text>
<path d="M208.20 572.5V626.85" stroke="#cfcfcf" stroke-width="0.7" stroke-dasharray="0.9 1.3"/>
<text transform="translate(204.60,563.4) rotate(-60)" font-size="8.1" fill="#111" stroke="#111">1453–1457</text>
<text transform="translate(214.40,569.6) rotate(-60)" font-size="7.9" fill="#111" stroke="#111">:ECQEDA/ASSWHS</text>
<path d="M227.60 572.5V626.85" stroke="#cfcfcf" stroke-width="0.7" stroke-dasharray="0.9 1.3"/>
<text transform="translate(229.80,569.4) rotate(-60)" font-size="8.1" fill="#111" stroke="#111">L1574P</text>
<path d="M237.60 572.5V584.77" stroke="#cfcfcf" stroke-width="0.7" stroke-dasharray="0.9 1.3"/>
<text transform="translate(239.80,569.4) rotate(-60)" font-size="8.1" fill="#111" stroke="#111">V1578del</text>
<path d="M247.40 572.5V595.29" stroke="#cfcfcf" stroke-width="0.7" stroke-dasharray="0.9 1.3"/>
<text transform="translate(249.60,569.4) rotate(-60)" font-size="8.1" fill="#111" stroke="#111">L1585P</text>
<path d="M257.50 572.5V616.33" stroke="#cfcfcf" stroke-width="0.7" stroke-dasharray="0.9 1.3"/>
<text transform="translate(259.70,569.4) rotate(-60)" font-size="8.1" fill="#111" stroke="#111">L1593P</text>
<path d="M267.40 572.5V616.33" stroke="#cfcfcf" stroke-width="0.7" stroke-dasharray="0.9 1.3"/>
<text transform="translate(269.60,569.4) rotate(-60)" font-size="8.1" fill="#111" stroke="#111">L1596H</text>
<path d="M277.00 572.5V626.85" stroke="#cfcfcf" stroke-width="0.7" stroke-dasharray="0.9 1.3"/>
<text transform="translate(279.20,569.4) rotate(-60)" font-size="8.1" fill="#111" stroke="#111">L1600P</text>
<path d="M286.90 572.5V626.85" stroke="#cfcfcf" stroke-width="0.7" stroke-dasharray="0.9 1.3"/>
<text transform="translate(289.10,569.4) rotate(-60)" font-size="8.1" fill="#111" stroke="#111">F1606delinsLPL</text>
<path d="M296.90 572.5V626.85" stroke="#cfcfcf" stroke-width="0.7" stroke-dasharray="0.9 1.3"/>
<text transform="translate(299.10,569.4) rotate(-60)" font-size="8.1" fill="#111" stroke="#111">F1606LinsNPSG</text>
<path d="M306.60 572.5V626.85" stroke="#cfcfcf" stroke-width="0.7" stroke-dasharray="0.9 1.3"/>
<text transform="translate(308.80,569.4) rotate(-60)" font-size="8.1" fill="#111" stroke="#111">F1606L</text>
<path d="M316.50 572.5V626.85" stroke="#cfcfcf" stroke-width="0.7" stroke-dasharray="0.9 1.3"/>
<text transform="translate(318.70,569.4) rotate(-60)" font-size="8.1" fill="#111" stroke="#111">F1606LinsEKE</text>
<path d="M326.30 572.5V626.85" stroke="#cfcfcf" stroke-width="0.7" stroke-dasharray="0.9 1.3"/>
<text transform="translate(328.50,569.4) rotate(-60)" font-size="8.1" fill="#111" stroke="#111">K1607insLAIYK</text>
<path d="M336.20 572.5V626.85" stroke="#cfcfcf" stroke-width="0.7" stroke-dasharray="0.9 1.3"/>
<text transform="translate(338.40,569.4) rotate(-60)" font-size="8.1" fill="#111" stroke="#111">E1623K</text>
<path d="M346.10 572.5V616.33" stroke="#cfcfcf" stroke-width="0.7" stroke-dasharray="0.9 1.3"/>
<text transform="translate(348.30,569.4) rotate(-60)" font-size="8.1" fill="#111" stroke="#111">L1678P</text>
<path d="M356.20 572.5V626.85" stroke="#cfcfcf" stroke-width="0.7" stroke-dasharray="0.9 1.3"/>
<text transform="translate(358.40,569.4) rotate(-60)" font-size="8.1" fill="#111" stroke="#111">D1698=</text>
<path d="M365.90 572.5V626.85" stroke="#cfcfcf" stroke-width="0.7" stroke-dasharray="0.9 1.3"/>
<text transform="translate(368.10,569.4) rotate(-60)" font-size="8.1" fill="#111" stroke="#111">I1718T</text>
<path d="M394.80 572.5V626.85" stroke="#cfcfcf" stroke-width="0.7" stroke-dasharray="0.9 1.3"/>
<text transform="translate(397.00,569.4) rotate(-60)" font-size="8.1" fill="#111" stroke="#111">P2415del</text>
<path d="M414.30 572.5V626.85" stroke="#cfcfcf" stroke-width="0.7" stroke-dasharray="0.9 1.3"/>
<text transform="translate(416.50,569.4) rotate(-60)" font-size="8.1" fill="#111" stroke="#111">I2456Gfs*65</text>
<path d="M424.20 572.5V626.85" stroke="#cfcfcf" stroke-width="0.7" stroke-dasharray="0.9 1.3"/>
<text transform="translate(426.40,569.4) rotate(-60)" font-size="8.1" fill="#111" stroke="#111">I2456Gfs*24</text>
<path d="M444.40 572.5V626.85" stroke="#cfcfcf" stroke-width="0.7" stroke-dasharray="0.9 1.3"/>
<text transform="translate(446.60,569.4) rotate(-60)" font-size="8.1" fill="#111" stroke="#111">L2468Gfs*12</text>
<path d="M454.20 572.5V626.85" stroke="#cfcfcf" stroke-width="0.7" stroke-dasharray="0.9 1.3"/>
<text transform="translate(456.40,569.4) rotate(-60)" font-size="8.1" fill="#111" stroke="#111">A2478=</text>
<path d="M464.00 572.5V626.85" stroke="#cfcfcf" stroke-width="0.7" stroke-dasharray="0.9 1.3"/>
<text transform="translate(466.20,569.4) rotate(-60)" font-size="8.1" fill="#111" stroke="#111">S2486L</text>
<path d="M473.80 572.5V626.85" stroke="#cfcfcf" stroke-width="0.7" stroke-dasharray="0.9 1.3"/>
<text transform="translate(476.00,569.4) rotate(-60)" font-size="8.1" fill="#111" stroke="#111">S2513Vfs*3</text>
<path d="M208.20 639.6V645.8L219.68 657.3V672.6M227.60 639.6V645.8L245.12 657.3V672.6M237.60 639.6V645.8L245.98 657.3V672.6M247.40 639.6V645.8L247.47 657.3V672.6M257.50 639.6V645.8L249.18 657.3V672.6M267.40 639.6V645.8L249.82 657.3V672.6M277.00 639.6V645.8L250.68 657.3V672.6M286.90 639.6V645.8L251.75 657.3V672.6M296.90 639.6V645.8L251.96 657.3V672.6M306.60 639.6V645.8L252.18 657.3V672.6M316.50 639.6V645.8L252.39 657.3V672.6M326.30 639.6V645.8L252.60 657.3V672.6M336.20 639.6V645.8L255.60 657.3V672.6M346.10 639.6V645.8L267.36 657.3V672.6M356.20 639.6V645.8L271.63 657.3V672.6M365.90 639.6V645.8L275.91 657.3V672.6M394.80 639.6V645.8L424.93 657.3V672.6M414.30 639.6V645.8L433.48 657.3V672.6M424.20 639.6V645.8L434.98 657.3V672.6M444.40 639.6V645.8L436.47 657.3V672.6M454.20 639.6V645.8L438.40 657.3V672.6M464.00 639.6V645.8L440.32 657.3V672.6M473.80 639.6V645.8L445.88 657.3V672.6" fill="none" stroke="#0c0c0c" stroke-width="1.08" stroke-linejoin="miter"/>
<circle cx="208.20" cy="632.40" r="4.75" fill="#fff" stroke="#b4123f" stroke-width="1.0"/>
<path d="M208.20 632.40V627.65" stroke="#b4123f" stroke-width="0.9"/>
<circle cx="227.60" cy="632.40" r="4.75" fill="#fff" stroke="#d3128b" stroke-width="1.0"/>
<path d="M227.60 632.40V627.65" stroke="#d3128b" stroke-width="0.9"/>
<circle cx="237.60" cy="632.40" r="4.75" fill="#fff" stroke="#6ab344" stroke-width="1.0"/>
<path d="M237.60 632.40L237.60 627.65A4.75 4.75 0 0 0 234.14 629.15Z" fill="#6ab344" stroke="#6ab344" stroke-width="0.25" stroke-linejoin="round"/>
<circle cx="237.60" cy="621.88" r="4.75" fill="#fff" stroke="#2b4a86" stroke-width="1.0"/>
<path d="M237.60 621.88L237.60 617.13A4.75 4.75 0 0 0 235.31 626.04Z" fill="#2b4a86" stroke="#2b4a86" stroke-width="0.25" stroke-linejoin="round"/>
<circle cx="237.60" cy="611.36" r="4.75" fill="#fff" stroke="#9a8fd2" stroke-width="1.0"/>
<path d="M237.60 611.36V606.61" stroke="#9a8fd2" stroke-width="0.9"/>
<circle cx="237.60" cy="600.84" r="4.75" fill="#fff" stroke="#2b4a86" stroke-width="1.0"/>
<path d="M237.60 600.84V596.09" stroke="#2b4a86" stroke-width="0.9"/>
<circle cx="237.60" cy="590.32" r="4.75" fill="#fff" stroke="#b4123f" stroke-width="1.0"/>
<path d="M237.60 590.32L237.60 585.57A4.75 4.75 0 0 0 234.35 586.86Z" fill="#b4123f" stroke="#b4123f" stroke-width="0.25" stroke-linejoin="round"/>
<circle cx="247.40" cy="632.40" r="4.75" fill="#fff" stroke="#5b2c83" stroke-width="1.0"/>
<path d="M247.40 632.40V627.65" stroke="#5b2c83" stroke-width="0.9"/>
<circle cx="247.40" cy="621.88" r="4.75" fill="#fff" stroke="#9a8fd2" stroke-width="1.0"/>
<path d="M247.40 621.88V617.13" stroke="#9a8fd2" stroke-width="0.9"/>
<circle cx="247.40" cy="611.36" r="4.75" fill="#fff" stroke="#e59217" stroke-width="1.0"/>
<path d="M247.40 611.36V606.61" stroke="#e59217" stroke-width="0.9"/>
<circle cx="247.40" cy="600.84" r="4.75" fill="#fff" stroke="#d3128b" stroke-width="1.0"/>
<path d="M247.40 600.84L247.40 596.09A4.75 4.75 0 1 0 249.56 596.61Z" fill="#d3128b" stroke="#d3128b" stroke-width="0.25" stroke-linejoin="round"/>
<circle cx="257.50" cy="632.40" r="4.75" fill="#fff" stroke="#62ade8" stroke-width="1.0"/>
<path d="M257.50 632.40V627.65" stroke="#62ade8" stroke-width="0.9"/>
<circle cx="257.50" cy="621.88" r="4.75" fill="#fff" stroke="#9a8fd2" stroke-width="1.0"/>
<path d="M257.50 621.88V617.13" stroke="#9a8fd2" stroke-width="0.9"/>
<circle cx="267.40" cy="632.40" r="4.75" fill="#fff" stroke="#62ade8" stroke-width="1.0"/>
<path d="M267.40 632.40V627.65" stroke="#62ade8" stroke-width="0.9"/>
<circle cx="267.40" cy="621.88" r="4.75" fill="#fff" stroke="#9a8fd2" stroke-width="1.0"/>
<path d="M267.40 621.88V617.13" stroke="#9a8fd2" stroke-width="0.9"/>
<circle cx="277.00" cy="632.40" r="4.75" fill="#fff" stroke="#5e3a17" stroke-width="1.0"/>
<path d="M277.00 632.40L277.00 627.65A4.75 4.75 0 1 0 281.75 632.40Z" fill="#5e3a17" stroke="#5e3a17" stroke-width="0.25" stroke-linejoin="round"/>
<circle cx="286.90" cy="632.40" r="4.75" fill="#fff" stroke="#6ab344" stroke-width="1.0"/>
<path d="M286.90 632.40L286.90 627.65A4.75 4.75 0 1 0 288.37 636.92Z" fill="#6ab344" stroke="#6ab344" stroke-width="0.25" stroke-linejoin="round"/>
<circle cx="296.90" cy="632.40" r="4.75" fill="#fff" stroke="#5b2c83" stroke-width="1.0"/>
<path d="M296.90 632.40L296.90 627.65A4.75 4.75 0 1 0 301.06 634.69Z" fill="#5b2c83" stroke="#5b2c83" stroke-width="0.25" stroke-linejoin="round"/>
<circle cx="306.60" cy="632.40" r="4.75" fill="#fff" stroke="#2b4a86" stroke-width="1.0"/>
<path d="M306.60 632.40L306.60 627.65A4.75 4.75 0 1 0 311.34 632.70Z" fill="#2b4a86" stroke="#2b4a86" stroke-width="0.25" stroke-linejoin="round"/>
<circle cx="316.50" cy="632.40" r="4.75" fill="#fff" stroke="#2b4a86" stroke-width="1.0"/>
<path d="M316.50 632.40V627.65" stroke="#2b4a86" stroke-width="0.9"/>
<circle cx="326.30" cy="632.40" r="4.75" fill="#fff" stroke="#b4123f" stroke-width="1.0"/>
<path d="M326.30 632.40L326.30 627.65A4.75 4.75 0 1 0 331.04 632.70Z" fill="#b4123f" stroke="#b4123f" stroke-width="0.25" stroke-linejoin="round"/>
<circle cx="336.20" cy="632.40" r="4.75" fill="#fff" stroke="#b4123f" stroke-width="1.0"/>
<path d="M336.20 632.40L336.20 627.65A4.75 4.75 0 1 0 340.72 630.93Z" fill="#b4123f" stroke="#b4123f" stroke-width="0.25" stroke-linejoin="round"/>
<circle cx="346.10" cy="632.40" r="4.75" fill="#fff" stroke="#62ade8" stroke-width="1.0"/>
<path d="M346.10 632.40L346.10 627.65A4.75 4.75 0 0 0 341.35 632.40Z" fill="#62ade8" stroke="#62ade8" stroke-width="0.25" stroke-linejoin="round"/>
<circle cx="346.10" cy="621.88" r="4.75" fill="#fff" stroke="#9a8fd2" stroke-width="1.0"/>
<path d="M346.10 621.88V617.13" stroke="#9a8fd2" stroke-width="0.9"/>
<circle cx="356.20" cy="632.40" r="4.75" fill="#fff" stroke="#c8c8cb" stroke-width="1.0"/>
<path d="M356.20 632.40L356.20 627.65A4.75 4.75 0 1 0 358.75 628.39Z" fill="#c8c8cb" stroke="#c8c8cb" stroke-width="0.25" stroke-linejoin="round"/>
<circle cx="365.90" cy="632.40" r="4.75" fill="#fff" stroke="#e59217" stroke-width="1.0"/>
<path d="M365.90 632.40L365.90 627.65A4.75 4.75 0 1 0 370.42 630.93Z" fill="#e59217" stroke="#e59217" stroke-width="0.25" stroke-linejoin="round"/>
<circle cx="394.80" cy="632.40" r="4.75" fill="#fff" stroke="#e59217" stroke-width="1.0"/>
<path d="M394.80 632.40V627.65" stroke="#e59217" stroke-width="0.9"/>
<circle cx="414.30" cy="632.40" r="4.75" fill="#fff" stroke="#e59217" stroke-width="1.0"/>
<path d="M414.30 632.40V627.65" stroke="#e59217" stroke-width="0.9"/>
<circle cx="424.20" cy="632.40" r="4.75" fill="#fff" stroke="#e59217" stroke-width="1.0"/>
<path d="M424.20 632.40L424.20 627.65A4.75 4.75 0 1 0 428.50 634.42Z" fill="#e59217" stroke="#e59217" stroke-width="0.25" stroke-linejoin="round"/>
<circle cx="444.40" cy="632.40" r="4.75" fill="#fff" stroke="#6ab344" stroke-width="1.0"/>
<path d="M444.40 632.40L444.40 627.65A4.75 4.75 0 0 0 439.65 632.40Z" fill="#6ab344" stroke="#6ab344" stroke-width="0.25" stroke-linejoin="round"/>
<circle cx="454.20" cy="632.40" r="4.75" fill="#fff" stroke="#e59217" stroke-width="1.0"/>
<path d="M454.20 632.40V627.65" stroke="#e59217" stroke-width="0.9"/>
<circle cx="464.00" cy="632.40" r="4.75" fill="#fff" stroke="#2b4a86" stroke-width="1.0"/>
<path d="M464.00 632.40V627.65" stroke="#2b4a86" stroke-width="0.9"/>
<circle cx="473.80" cy="632.40" r="4.75" fill="#fff" stroke="#2b4a86" stroke-width="1.0"/>
<path d="M473.80 632.40V627.65" stroke="#2b4a86" stroke-width="0.9"/>
<path d="M84.3 664.5H55.6V681.6M103.5 664.5H455.0V681.6H440" fill="none" stroke="#111" stroke-width="0.95"/>
<path d="M60.0 664.5V681.6M66.3 664.5V681.6M119.8 664.5V681.6M134.3 664.5V681.6M145.5 664.5V681.6M158.6 664.5V681.6M168.3 664.5V681.6M186.5 664.5V681.6M194.5 664.5V681.6M234.7 664.5V681.6M265.4 664.5V681.6M266.9 664.5V681.6M275.6 664.5V681.6M291.5 664.5V681.6M297.7 664.5V681.6M309.8 664.5V681.6M331.4 664.5V681.6M341.6 664.5V681.6M348.9 664.5V681.6" stroke="#111" stroke-width="0.95"/>
<path d="M53.8 681.8000000000001H84.3M103.5 681.8000000000001H445.6" stroke="#111" stroke-width="1.7"/>
<path d="M84.3 664.5H90M93 664.5H96.4M98.8 664.5H102.6" stroke="#111" stroke-width="0.9"/>
<path d="M84.3 681.8000000000001H90M93 681.8000000000001H96.4M98.8 681.8000000000001H102.6" stroke="#111" stroke-width="1.7"/>
<path d="M84.3 657.5V690M103.4 657.5V690" stroke="#111" stroke-width="0.9"/>
<path d="M56.3 681.6V685.0" stroke="#111" stroke-width="1.0"/>
<text x="56.30" y="696.20" font-size="8.6" text-anchor="middle" fill="#111" stroke="#111">0</text>
<path d="M122.2 681.6V685.0" stroke="#111" stroke-width="1.0"/>
<text x="122.20" y="696.20" font-size="8.6" text-anchor="middle" fill="#111" stroke="#111">1000</text>
<path d="M229.4 681.6V685.0" stroke="#111" stroke-width="1.0"/>
<text x="229.40" y="696.20" font-size="8.6" text-anchor="middle" fill="#111" stroke="#111">1500</text>
<path d="M336.0 681.6V685.0" stroke="#111" stroke-width="1.0"/>
<text x="336.00" y="696.20" font-size="8.6" text-anchor="middle" fill="#111" stroke="#111">2000</text>
<path d="M443.1 681.6V685.0" stroke="#111" stroke-width="1.0"/>
<text x="443.10" y="696.20" font-size="8.6" text-anchor="middle" fill="#111" stroke="#111">2500</text>
<text x="214.80" y="680.00" font-size="7.9" text-anchor="middle" fill="#111" stroke="#111">ex 25</text>
<text x="248.90" y="680.00" font-size="7.9" text-anchor="middle" fill="#111" stroke="#111">ex 26</text>
<text x="270.90" y="680.00" font-size="7.7" text-anchor="middle" fill="#111" stroke="#111">27</text>
<text x="405.60" y="678.60" font-size="7.9" text-anchor="middle" fill="#111" stroke="#111">ex 34</text>
<text x="47.20" y="671.00" font-size="8.4" text-anchor="end" fill="#111" stroke="#111">NOTCH1</text>
<text x="51.20" y="681.20" font-size="8.3" text-anchor="end" fill="#111" stroke="#111">(exon 1-34)</text>
<text x="465.00" y="675.90" font-size="8.7" fill="#111" stroke="#111">(2555 AA)</text>
<circle cx="53.0" cy="712.0" r="2.9" fill="#7ab648" stroke="#1a1a1a" stroke-width="0.8"/>
<text x="59.40" y="714.80" font-size="7.9" fill="#111" stroke="#111">X09</text>
<circle cx="86.0" cy="712.0" r="2.9" fill="#5b2c83" stroke="#1a1a1a" stroke-width="0.8"/>
<text x="92.40" y="714.80" font-size="7.9" fill="#111" stroke="#111">XB37</text>
<circle cx="124.0" cy="712.0" r="2.9" fill="#c97a2b" stroke="#1a1a1a" stroke-width="0.8"/>
<text x="130.40" y="714.80" font-size="7.9" fill="#111" stroke="#111">XB47</text>
<circle cx="162.2" cy="712.0" r="2.9" fill="#2f4f8f" stroke="#1a1a1a" stroke-width="0.8"/>
<text x="168.60" y="714.80" font-size="7.9" fill="#111" stroke="#111">XD83.T0</text>
<circle cx="211.6" cy="712.0" r="2.9" fill="#6fb3ea" stroke="#1a1a1a" stroke-width="0.8"/>
<text x="218.00" y="714.80" font-size="7.9" fill="#111" stroke="#111">XD83.R1</text>
<circle cx="262.5" cy="712.0" r="2.9" fill="#9a8fd2" stroke="#1a1a1a" stroke-width="0.8"/>
<text x="268.90" y="714.80" font-size="7.9" fill="#111" stroke="#111">XD83.R2</text>
<circle cx="311.6" cy="712.0" r="2.9" fill="#e8941a" stroke="#1a1a1a" stroke-width="0.8"/>
<text x="318.00" y="714.80" font-size="7.9" fill="#111" stroke="#111">XF100</text>
<circle cx="354.0" cy="712.0" r="2.9" fill="#b4123f" stroke="#1a1a1a" stroke-width="0.8"/>
<text x="360.40" y="714.80" font-size="7.9" fill="#111" stroke="#111">XF91</text>
<circle cx="392.0" cy="712.0" r="2.9" fill="#d3128b" stroke="#1a1a1a" stroke-width="0.8"/>
<text x="398.40" y="714.80" font-size="7.9" fill="#111" stroke="#111">XF97</text>
<circle cx="429.2" cy="712.0" r="2.9" fill="#d2d2d4" stroke="#1a1a1a" stroke-width="0.8"/>
<text x="435.60" y="714.80" font-size="7.9" fill="#111" stroke="#111">XG121</text>
<!-- outer frame -->
<rect x="0" y="0" width="520" height="1" fill="#000"/>
<rect x="0" y="0" width="1.1" height="723" fill="#000"/>
<rect x="518.8" y="0" width="1.2" height="723" fill="#000"/>
<rect x="0" y="721.4" width="520" height="1.6" fill="#000"/>
</svg>
</body>
</html>
